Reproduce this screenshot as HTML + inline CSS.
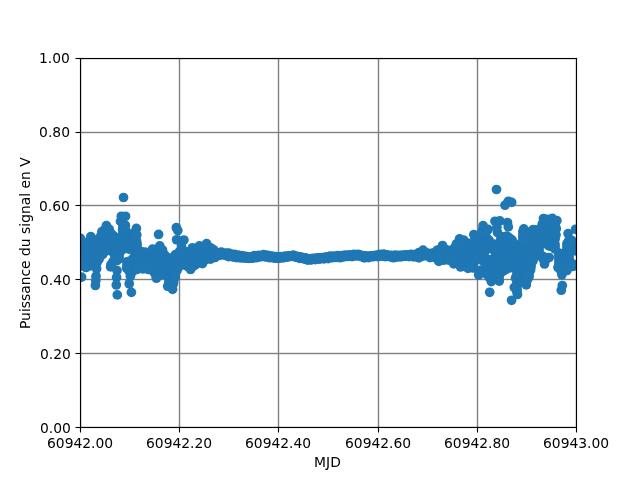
<!DOCTYPE html>
<html lang="fr">
<head>
<meta charset="utf-8">
<title>Puissance du signal en V</title>
<style>
html,body{margin:0;padding:0;background:#fff;}
body{width:640px;height:480px;overflow:hidden;}
svg{display:block;will-change:transform;transform:translateZ(0);}
text{font-family:"DejaVu Sans","Liberation Sans",sans-serif;font-size:13.889px;fill:#000;}
.t{stroke:#000;stroke-width:1.111;fill:none;}
.d circle{fill:#1f77b4;}
</style>
</head>
<body>
<svg width="640" height="480" viewBox="0 0 640 480">
<defs><clipPath id="ax"><rect x="80.5" y="58.5" width="496" height="369"/></clipPath></defs>
<rect width="640" height="480" fill="#fff"/>
<g fill="#808080">
<rect x="178.805" y="58.5" width="1.389" height="369"/>
<rect x="277.805" y="58.5" width="1.389" height="369"/>
<rect x="377.805" y="58.5" width="1.389" height="369"/>
<rect x="476.805" y="58.5" width="1.389" height="369"/>
<rect x="80.5" y="131.805" width="496" height="1.389"/>
<rect x="80.5" y="204.805" width="496" height="1.389"/>
<rect x="80.5" y="278.805" width="496" height="1.389"/>
<rect x="80.5" y="352.805" width="496" height="1.389"/>
</g>
<g class="d" clip-path="url(#ax)">
<circle cx="79" cy="238.4" r="4.86"/><circle cx="79" cy="240.91" r="4.86"/><circle cx="79" cy="243.42" r="4.86"/><circle cx="79" cy="245.93" r="4.86"/>
<circle cx="79" cy="248.44" r="4.86"/><circle cx="79" cy="250.95" r="4.86"/><circle cx="79" cy="253.45" r="4.86"/><circle cx="79" cy="255.96" r="4.86"/>
<circle cx="79" cy="258.47" r="4.86"/><circle cx="79" cy="260.98" r="4.86"/><circle cx="79" cy="263.49" r="4.86"/><circle cx="79" cy="266" r="4.86"/>
<circle cx="81" cy="241.02" r="4.86"/><circle cx="81" cy="243.49" r="4.86"/><circle cx="81" cy="245.97" r="4.86"/><circle cx="81" cy="248.45" r="4.86"/>
<circle cx="81" cy="250.93" r="4.86"/><circle cx="81" cy="253.41" r="4.86"/><circle cx="81" cy="255.89" r="4.86"/><circle cx="81" cy="258.36" r="4.86"/>
<circle cx="81" cy="260.84" r="4.86"/><circle cx="81" cy="263.32" r="4.86"/><circle cx="81" cy="265.8" r="4.86"/><circle cx="83" cy="242.68" r="4.86"/>
<circle cx="83" cy="245.22" r="4.86"/><circle cx="83" cy="247.77" r="4.86"/><circle cx="83" cy="250.32" r="4.86"/><circle cx="83" cy="252.86" r="4.86"/>
<circle cx="83" cy="255.41" r="4.86"/><circle cx="83" cy="257.96" r="4.86"/><circle cx="83" cy="260.51" r="4.86"/><circle cx="83" cy="263.05" r="4.86"/>
<circle cx="83" cy="265.6" r="4.86"/><circle cx="85" cy="244.34" r="4.86"/><circle cx="85" cy="246.68" r="4.86"/><circle cx="85" cy="249.02" r="4.86"/>
<circle cx="85" cy="251.36" r="4.86"/><circle cx="85" cy="253.7" r="4.86"/><circle cx="85" cy="256.04" r="4.86"/><circle cx="85" cy="258.38" r="4.86"/>
<circle cx="85" cy="260.72" r="4.86"/><circle cx="85" cy="263.06" r="4.86"/><circle cx="85" cy="265.4" r="4.86"/><circle cx="87" cy="243.54" r="4.86"/>
<circle cx="87" cy="245.97" r="4.86"/><circle cx="87" cy="248.41" r="4.86"/><circle cx="87" cy="250.84" r="4.86"/><circle cx="87" cy="253.28" r="4.86"/>
<circle cx="87" cy="255.71" r="4.86"/><circle cx="87" cy="258.15" r="4.86"/><circle cx="87" cy="260.58" r="4.86"/><circle cx="87" cy="263.02" r="4.86"/>
<circle cx="87" cy="265.46" r="4.86"/><circle cx="89" cy="241.1" r="4.86"/><circle cx="89" cy="243.56" r="4.86"/><circle cx="89" cy="246.03" r="4.86"/>
<circle cx="89" cy="248.5" r="4.86"/><circle cx="89" cy="250.96" r="4.86"/><circle cx="89" cy="253.43" r="4.86"/><circle cx="89" cy="255.9" r="4.86"/>
<circle cx="89" cy="258.37" r="4.86"/><circle cx="89" cy="260.83" r="4.86"/><circle cx="89" cy="263.3" r="4.86"/><circle cx="89" cy="265.77" r="4.86"/>
<circle cx="91" cy="239.05" r="4.86"/><circle cx="91" cy="241.47" r="4.86"/><circle cx="91" cy="243.88" r="4.86"/><circle cx="91" cy="246.29" r="4.86"/>
<circle cx="91" cy="248.71" r="4.86"/><circle cx="91" cy="251.12" r="4.86"/><circle cx="91" cy="253.53" r="4.86"/><circle cx="91" cy="255.95" r="4.86"/>
<circle cx="91" cy="258.36" r="4.86"/><circle cx="91" cy="260.77" r="4.86"/><circle cx="91" cy="263.19" r="4.86"/><circle cx="91" cy="265.6" r="4.86"/>
<circle cx="93" cy="240.59" r="4.86"/><circle cx="93" cy="242.93" r="4.86"/><circle cx="93" cy="245.27" r="4.86"/><circle cx="93" cy="247.61" r="4.86"/>
<circle cx="93" cy="249.95" r="4.86"/><circle cx="93" cy="252.29" r="4.86"/><circle cx="93" cy="254.64" r="4.86"/><circle cx="93" cy="256.98" r="4.86"/>
<circle cx="93" cy="259.32" r="4.86"/><circle cx="93" cy="261.66" r="4.86"/><circle cx="93" cy="264" r="4.86"/><circle cx="95" cy="242.12" r="4.86"/>
<circle cx="95" cy="244.48" r="4.86"/><circle cx="95" cy="246.84" r="4.86"/><circle cx="95" cy="249.19" r="4.86"/><circle cx="95" cy="251.55" r="4.86"/>
<circle cx="95" cy="253.91" r="4.86"/><circle cx="95" cy="256.26" r="4.86"/><circle cx="95" cy="258.62" r="4.86"/><circle cx="95" cy="260.98" r="4.86"/>
<circle cx="95" cy="263.33" r="4.86"/><circle cx="97" cy="242.19" r="4.86"/><circle cx="97" cy="244.75" r="4.86"/><circle cx="97" cy="247.31" r="4.86"/>
<circle cx="97" cy="249.87" r="4.86"/><circle cx="97" cy="252.43" r="4.86"/><circle cx="97" cy="254.99" r="4.86"/><circle cx="97" cy="257.55" r="4.86"/>
<circle cx="97" cy="260.11" r="4.86"/><circle cx="97" cy="262.67" r="4.86"/><circle cx="99" cy="238.8" r="4.86"/><circle cx="99" cy="241.38" r="4.86"/>
<circle cx="99" cy="243.96" r="4.86"/><circle cx="99" cy="246.54" r="4.86"/><circle cx="99" cy="249.11" r="4.86"/><circle cx="99" cy="251.69" r="4.86"/>
<circle cx="99" cy="254.27" r="4.86"/><circle cx="99" cy="256.85" r="4.86"/><circle cx="99" cy="259.42" r="4.86"/><circle cx="101" cy="235.42" r="4.86"/>
<circle cx="101" cy="237.93" r="4.86"/><circle cx="101" cy="240.44" r="4.86"/><circle cx="101" cy="242.95" r="4.86"/><circle cx="101" cy="245.46" r="4.86"/>
<circle cx="101" cy="247.97" r="4.86"/><circle cx="101" cy="250.47" r="4.86"/><circle cx="101" cy="252.98" r="4.86"/><circle cx="101" cy="255.49" r="4.86"/>
<circle cx="103" cy="232.41" r="4.86"/><circle cx="103" cy="234.81" r="4.86"/><circle cx="103" cy="237.21" r="4.86"/><circle cx="103" cy="239.61" r="4.86"/>
<circle cx="103" cy="242" r="4.86"/><circle cx="103" cy="244.4" r="4.86"/><circle cx="103" cy="246.8" r="4.86"/><circle cx="103" cy="249.2" r="4.86"/>
<circle cx="103" cy="251.6" r="4.86"/><circle cx="103" cy="254" r="4.86"/><circle cx="105" cy="229.7" r="4.86"/><circle cx="105" cy="232.09" r="4.86"/>
<circle cx="105" cy="234.49" r="4.86"/><circle cx="105" cy="236.88" r="4.86"/><circle cx="105" cy="239.28" r="4.86"/><circle cx="105" cy="241.67" r="4.86"/>
<circle cx="105" cy="244.07" r="4.86"/><circle cx="105" cy="246.46" r="4.86"/><circle cx="105" cy="248.86" r="4.86"/><circle cx="105" cy="251.25" r="4.86"/>
<circle cx="107" cy="228.57" r="4.86"/><circle cx="107" cy="230.92" r="4.86"/><circle cx="107" cy="233.28" r="4.86"/><circle cx="107" cy="235.63" r="4.86"/>
<circle cx="107" cy="237.98" r="4.86"/><circle cx="107" cy="240.34" r="4.86"/><circle cx="107" cy="242.69" r="4.86"/><circle cx="107" cy="245.04" r="4.86"/>
<circle cx="107" cy="247.4" r="4.86"/><circle cx="107" cy="249.75" r="4.86"/><circle cx="109" cy="231.14" r="4.86"/><circle cx="109" cy="233.53" r="4.86"/>
<circle cx="109" cy="235.92" r="4.86"/><circle cx="109" cy="238.31" r="4.86"/><circle cx="109" cy="240.7" r="4.86"/><circle cx="109" cy="243.09" r="4.86"/>
<circle cx="109" cy="245.48" r="4.86"/><circle cx="109" cy="247.87" r="4.86"/><circle cx="109" cy="250.26" r="4.86"/><circle cx="111" cy="233.33" r="4.86"/>
<circle cx="111" cy="235.73" r="4.86"/><circle cx="111" cy="238.14" r="4.86"/><circle cx="111" cy="240.55" r="4.86"/><circle cx="111" cy="242.95" r="4.86"/>
<circle cx="111" cy="245.36" r="4.86"/><circle cx="111" cy="247.77" r="4.86"/><circle cx="111" cy="250.18" r="4.86"/><circle cx="111" cy="264.62" r="4.86"/>
<circle cx="113" cy="235.47" r="4.86"/><circle cx="113" cy="237.86" r="4.86"/><circle cx="113" cy="240.26" r="4.86"/><circle cx="113" cy="242.65" r="4.86"/>
<circle cx="113" cy="245.05" r="4.86"/><circle cx="113" cy="247.44" r="4.86"/><circle cx="113" cy="249.84" r="4.86"/><circle cx="113" cy="252.23" r="4.86"/>
<circle cx="113" cy="261.81" r="4.86"/><circle cx="115" cy="237.07" r="4.86"/><circle cx="115" cy="239.64" r="4.86"/><circle cx="115" cy="242.21" r="4.86"/>
<circle cx="115" cy="244.78" r="4.86"/><circle cx="115" cy="247.35" r="4.86"/><circle cx="115" cy="249.92" r="4.86"/><circle cx="115" cy="252.49" r="4.86"/>
<circle cx="115" cy="255.06" r="4.86"/><circle cx="115" cy="257.63" r="4.86"/><circle cx="115" cy="260.19" r="4.86"/><circle cx="117" cy="238.5" r="4.86"/>
<circle cx="117" cy="240.96" r="4.86"/><circle cx="117" cy="243.42" r="4.86"/><circle cx="117" cy="245.88" r="4.86"/><circle cx="117" cy="248.33" r="4.86"/>
<circle cx="117" cy="250.79" r="4.86"/><circle cx="117" cy="253.25" r="4.86"/><circle cx="117" cy="255.71" r="4.86"/><circle cx="117" cy="258.17" r="4.86"/>
<circle cx="117" cy="260.62" r="4.86"/><circle cx="119" cy="238.3" r="4.86"/><circle cx="119" cy="240.87" r="4.86"/><circle cx="119" cy="243.44" r="4.86"/>
<circle cx="119" cy="246.01" r="4.86"/><circle cx="119" cy="248.58" r="4.86"/><circle cx="119" cy="251.15" r="4.86"/><circle cx="119" cy="253.72" r="4.86"/>
<circle cx="119" cy="256.29" r="4.86"/><circle cx="119" cy="258.86" r="4.86"/><circle cx="121" cy="238.09" r="4.86"/><circle cx="121" cy="240.63" r="4.86"/>
<circle cx="121" cy="243.16" r="4.86"/><circle cx="121" cy="245.7" r="4.86"/><circle cx="121" cy="248.24" r="4.86"/><circle cx="121" cy="250.77" r="4.86"/>
<circle cx="123" cy="224.5" r="4.86"/><circle cx="123" cy="226.98" r="4.86"/><circle cx="123" cy="229.46" r="4.86"/><circle cx="123" cy="231.94" r="4.86"/>
<circle cx="123" cy="234.42" r="4.86"/><circle cx="123" cy="236.9" r="4.86"/><circle cx="123" cy="239.38" r="4.86"/><circle cx="123" cy="241.85" r="4.86"/>
<circle cx="123" cy="244.33" r="4.86"/><circle cx="123" cy="246.81" r="4.86"/><circle cx="123" cy="249.29" r="4.86"/><circle cx="125" cy="226.81" r="4.86"/>
<circle cx="125" cy="229.37" r="4.86"/><circle cx="125" cy="231.94" r="4.86"/><circle cx="125" cy="234.51" r="4.86"/><circle cx="125" cy="237.07" r="4.86"/>
<circle cx="125" cy="239.64" r="4.86"/><circle cx="125" cy="242.21" r="4.86"/><circle cx="125" cy="244.77" r="4.86"/><circle cx="125" cy="247.34" r="4.86"/>
<circle cx="127" cy="232.5" r="4.86"/><circle cx="127" cy="234.94" r="4.86"/><circle cx="127" cy="237.38" r="4.86"/><circle cx="127" cy="239.82" r="4.86"/>
<circle cx="127" cy="242.26" r="4.86"/><circle cx="127" cy="244.7" r="4.86"/><circle cx="127" cy="247.15" r="4.86"/><circle cx="127" cy="261.79" r="4.86"/>
<circle cx="127" cy="264.23" r="4.86"/><circle cx="129" cy="234.5" r="4.86"/><circle cx="129" cy="236.94" r="4.86"/><circle cx="129" cy="239.37" r="4.86"/>
<circle cx="129" cy="241.81" r="4.86"/><circle cx="129" cy="244.24" r="4.86"/><circle cx="129" cy="246.68" r="4.86"/><circle cx="129" cy="249.12" r="4.86"/>
<circle cx="129" cy="261.3" r="4.86"/><circle cx="129" cy="263.73" r="4.86"/><circle cx="129" cy="266.17" r="4.86"/><circle cx="129" cy="268.61" r="4.86"/>
<circle cx="129" cy="271.04" r="4.86"/><circle cx="131" cy="236.5" r="4.86"/><circle cx="131" cy="238.96" r="4.86"/><circle cx="131" cy="241.42" r="4.86"/>
<circle cx="131" cy="243.88" r="4.86"/><circle cx="131" cy="246.34" r="4.86"/><circle cx="131" cy="248.79" r="4.86"/><circle cx="131" cy="261.09" r="4.86"/>
<circle cx="131" cy="263.55" r="4.86"/><circle cx="131" cy="266.01" r="4.86"/><circle cx="131" cy="268.47" r="4.86"/><circle cx="131" cy="270.93" r="4.86"/>
<circle cx="131" cy="273.38" r="4.86"/><circle cx="133" cy="234.31" r="4.86"/><circle cx="133" cy="236.76" r="4.86"/><circle cx="133" cy="239.21" r="4.86"/>
<circle cx="133" cy="241.65" r="4.86"/><circle cx="133" cy="244.1" r="4.86"/><circle cx="133" cy="246.54" r="4.86"/><circle cx="133" cy="248.99" r="4.86"/>
<circle cx="133" cy="258.77" r="4.86"/><circle cx="133" cy="261.22" r="4.86"/><circle cx="133" cy="263.66" r="4.86"/><circle cx="133" cy="266.11" r="4.86"/>
<circle cx="133" cy="268.55" r="4.86"/><circle cx="133" cy="271" r="4.86"/><circle cx="135" cy="232.13" r="4.86"/><circle cx="135" cy="234.6" r="4.86"/>
<circle cx="135" cy="237.08" r="4.86"/><circle cx="135" cy="239.55" r="4.86"/><circle cx="135" cy="242.02" r="4.86"/><circle cx="135" cy="244.5" r="4.86"/>
<circle cx="135" cy="246.97" r="4.86"/><circle cx="135" cy="249.44" r="4.86"/><circle cx="135" cy="251.92" r="4.86"/><circle cx="135" cy="254.39" r="4.86"/>
<circle cx="135" cy="256.86" r="4.86"/><circle cx="135" cy="259.34" r="4.86"/><circle cx="135" cy="261.81" r="4.86"/><circle cx="135" cy="264.29" r="4.86"/>
<circle cx="135" cy="266.76" r="4.86"/><circle cx="135" cy="269.23" r="4.86"/><circle cx="137" cy="243.57" r="4.86"/><circle cx="137" cy="245.96" r="4.86"/>
<circle cx="137" cy="248.35" r="4.86"/><circle cx="137" cy="250.74" r="4.86"/><circle cx="137" cy="253.13" r="4.86"/><circle cx="137" cy="255.52" r="4.86"/>
<circle cx="137" cy="257.91" r="4.86"/><circle cx="137" cy="260.3" r="4.86"/><circle cx="137" cy="262.69" r="4.86"/><circle cx="137" cy="265.08" r="4.86"/>
<circle cx="137" cy="267.47" r="4.86"/><circle cx="139" cy="250.71" r="4.86"/><circle cx="139" cy="253.05" r="4.86"/><circle cx="139" cy="255.39" r="4.86"/>
<circle cx="139" cy="257.73" r="4.86"/><circle cx="139" cy="260.06" r="4.86"/><circle cx="139" cy="262.4" r="4.86"/><circle cx="139" cy="264.74" r="4.86"/>
<circle cx="139" cy="267.08" r="4.86"/><circle cx="141" cy="251.65" r="4.86"/><circle cx="141" cy="254.2" r="4.86"/><circle cx="141" cy="256.75" r="4.86"/>
<circle cx="141" cy="259.3" r="4.86"/><circle cx="141" cy="261.85" r="4.86"/><circle cx="141" cy="264.39" r="4.86"/><circle cx="141" cy="266.94" r="4.86"/>
<circle cx="143" cy="252.6" r="4.86"/><circle cx="143" cy="254.97" r="4.86"/><circle cx="143" cy="257.33" r="4.86"/><circle cx="143" cy="259.7" r="4.86"/>
<circle cx="143" cy="262.07" r="4.86"/><circle cx="143" cy="264.43" r="4.86"/><circle cx="143" cy="266.8" r="4.86"/><circle cx="145" cy="252.14" r="4.86"/>
<circle cx="145" cy="254.62" r="4.86"/><circle cx="145" cy="257.09" r="4.86"/><circle cx="145" cy="259.56" r="4.86"/><circle cx="145" cy="262.04" r="4.86"/>
<circle cx="145" cy="264.51" r="4.86"/><circle cx="145" cy="266.98" r="4.86"/><circle cx="147" cy="254.27" r="4.86"/><circle cx="147" cy="256.85" r="4.86"/>
<circle cx="147" cy="259.42" r="4.86"/><circle cx="147" cy="262" r="4.86"/><circle cx="147" cy="264.58" r="4.86"/><circle cx="147" cy="267.16" r="4.86"/>
<circle cx="149" cy="253.57" r="4.86"/><circle cx="149" cy="255.91" r="4.86"/><circle cx="149" cy="258.26" r="4.86"/><circle cx="149" cy="260.6" r="4.86"/>
<circle cx="149" cy="262.94" r="4.86"/><circle cx="149" cy="265.29" r="4.86"/><circle cx="149" cy="267.63" r="4.86"/><circle cx="151" cy="253.7" r="4.86"/>
<circle cx="151" cy="256.24" r="4.86"/><circle cx="151" cy="258.78" r="4.86"/><circle cx="151" cy="261.32" r="4.86"/><circle cx="151" cy="263.86" r="4.86"/>
<circle cx="151" cy="266.4" r="4.86"/><circle cx="151" cy="268.94" r="4.86"/><circle cx="153" cy="253.63" r="4.86"/><circle cx="153" cy="256.1" r="4.86"/>
<circle cx="153" cy="258.56" r="4.86"/><circle cx="153" cy="261.02" r="4.86"/><circle cx="153" cy="263.48" r="4.86"/><circle cx="153" cy="265.94" r="4.86"/>
<circle cx="153" cy="268.4" r="4.86"/><circle cx="153" cy="270.86" r="4.86"/><circle cx="155" cy="250.27" r="4.86"/><circle cx="155" cy="252.63" r="4.86"/>
<circle cx="155" cy="254.99" r="4.86"/><circle cx="155" cy="257.35" r="4.86"/><circle cx="155" cy="259.72" r="4.86"/><circle cx="155" cy="262.08" r="4.86"/>
<circle cx="155" cy="264.44" r="4.86"/><circle cx="155" cy="266.8" r="4.86"/><circle cx="155" cy="269.16" r="4.86"/><circle cx="155" cy="271.52" r="4.86"/>
<circle cx="155" cy="273.88" r="4.86"/><circle cx="157" cy="249.37" r="4.86"/><circle cx="157" cy="251.78" r="4.86"/><circle cx="157" cy="254.19" r="4.86"/>
<circle cx="157" cy="256.6" r="4.86"/><circle cx="157" cy="259.01" r="4.86"/><circle cx="157" cy="261.42" r="4.86"/><circle cx="157" cy="263.83" r="4.86"/>
<circle cx="157" cy="266.24" r="4.86"/><circle cx="157" cy="268.65" r="4.86"/><circle cx="157" cy="271.06" r="4.86"/><circle cx="157" cy="273.47" r="4.86"/>
<circle cx="157" cy="275.88" r="4.86"/><circle cx="159" cy="248.46" r="4.86"/><circle cx="159" cy="250.92" r="4.86"/><circle cx="159" cy="253.38" r="4.86"/>
<circle cx="159" cy="255.84" r="4.86"/><circle cx="159" cy="258.29" r="4.86"/><circle cx="159" cy="260.75" r="4.86"/><circle cx="159" cy="263.21" r="4.86"/>
<circle cx="159" cy="265.67" r="4.86"/><circle cx="159" cy="268.13" r="4.86"/><circle cx="159" cy="270.58" r="4.86"/><circle cx="159" cy="273.04" r="4.86"/>
<circle cx="159" cy="275.5" r="4.86"/><circle cx="161" cy="249.92" r="4.86"/><circle cx="161" cy="252.31" r="4.86"/><circle cx="161" cy="254.7" r="4.86"/>
<circle cx="161" cy="257.1" r="4.86"/><circle cx="161" cy="259.49" r="4.86"/><circle cx="161" cy="261.88" r="4.86"/><circle cx="161" cy="264.27" r="4.86"/>
<circle cx="161" cy="266.66" r="4.86"/><circle cx="161" cy="269.05" r="4.86"/><circle cx="161" cy="271.44" r="4.86"/><circle cx="161" cy="273.83" r="4.86"/>
<circle cx="163" cy="252.83" r="4.86"/><circle cx="163" cy="255.42" r="4.86"/><circle cx="163" cy="258" r="4.86"/><circle cx="163" cy="260.58" r="4.86"/>
<circle cx="163" cy="263.17" r="4.86"/><circle cx="163" cy="265.75" r="4.86"/><circle cx="163" cy="268.33" r="4.86"/><circle cx="163" cy="270.92" r="4.86"/>
<circle cx="163" cy="273.5" r="4.86"/><circle cx="165" cy="255.37" r="4.86"/><circle cx="165" cy="257.76" r="4.86"/><circle cx="165" cy="260.15" r="4.86"/>
<circle cx="165" cy="262.54" r="4.86"/><circle cx="165" cy="264.93" r="4.86"/><circle cx="165" cy="267.32" r="4.86"/><circle cx="165" cy="269.72" r="4.86"/>
<circle cx="165" cy="272.11" r="4.86"/><circle cx="165" cy="274.5" r="4.86"/><circle cx="167" cy="257.29" r="4.86"/><circle cx="167" cy="259.58" r="4.86"/>
<circle cx="167" cy="261.88" r="4.86"/><circle cx="167" cy="264.18" r="4.86"/><circle cx="167" cy="266.48" r="4.86"/><circle cx="167" cy="268.77" r="4.86"/>
<circle cx="167" cy="271.07" r="4.86"/><circle cx="167" cy="273.37" r="4.86"/><circle cx="167" cy="275.67" r="4.86"/><circle cx="169" cy="259" r="4.86"/>
<circle cx="169" cy="261.58" r="4.86"/><circle cx="169" cy="264.17" r="4.86"/><circle cx="169" cy="266.75" r="4.86"/><circle cx="169" cy="269.34" r="4.86"/>
<circle cx="169" cy="271.92" r="4.86"/><circle cx="169" cy="274.51" r="4.86"/><circle cx="169" cy="277.09" r="4.86"/><circle cx="169" cy="279.68" r="4.86"/>
<circle cx="169" cy="282.26" r="4.86"/><circle cx="169" cy="284.85" r="4.86"/><circle cx="171" cy="258.47" r="4.86"/><circle cx="171" cy="260.98" r="4.86"/>
<circle cx="171" cy="263.5" r="4.86"/><circle cx="171" cy="266.02" r="4.86"/><circle cx="171" cy="268.54" r="4.86"/><circle cx="171" cy="271.05" r="4.86"/>
<circle cx="171" cy="273.57" r="4.86"/><circle cx="171" cy="276.09" r="4.86"/><circle cx="171" cy="278.6" r="4.86"/><circle cx="171" cy="281.12" r="4.86"/>
<circle cx="171" cy="283.64" r="4.86"/><circle cx="171" cy="286.16" r="4.86"/><circle cx="173" cy="257.77" r="4.86"/><circle cx="173" cy="260.2" r="4.86"/>
<circle cx="173" cy="262.63" r="4.86"/><circle cx="173" cy="265.06" r="4.86"/><circle cx="173" cy="267.48" r="4.86"/><circle cx="173" cy="269.91" r="4.86"/>
<circle cx="173" cy="272.34" r="4.86"/><circle cx="173" cy="274.77" r="4.86"/><circle cx="173" cy="277.2" r="4.86"/><circle cx="173" cy="279.62" r="4.86"/>
<circle cx="173" cy="282.05" r="4.86"/><circle cx="173" cy="284.48" r="4.86"/><circle cx="175" cy="256.91" r="4.86"/><circle cx="175" cy="259.25" r="4.86"/>
<circle cx="175" cy="261.6" r="4.86"/><circle cx="175" cy="263.94" r="4.86"/><circle cx="175" cy="266.28" r="4.86"/><circle cx="175" cy="268.62" r="4.86"/>
<circle cx="175" cy="270.96" r="4.86"/><circle cx="175" cy="273.3" r="4.86"/><circle cx="175" cy="275.64" r="4.86"/><circle cx="177" cy="255.57" r="4.86"/>
<circle cx="177" cy="258.08" r="4.86"/><circle cx="177" cy="260.58" r="4.86"/><circle cx="177" cy="263.08" r="4.86"/><circle cx="177" cy="265.59" r="4.86"/>
<circle cx="177" cy="268.09" r="4.86"/><circle cx="177" cy="270.59" r="4.86"/><circle cx="179" cy="254.07" r="4.86"/><circle cx="179" cy="256.6" r="4.86"/>
<circle cx="179" cy="259.12" r="4.86"/><circle cx="179" cy="261.64" r="4.86"/><circle cx="179" cy="264.17" r="4.86"/><circle cx="179" cy="266.69" r="4.86"/>
<circle cx="181" cy="252.97" r="4.86"/><circle cx="181" cy="255.19" r="4.86"/><circle cx="181" cy="257.41" r="4.86"/><circle cx="181" cy="259.63" r="4.86"/>
<circle cx="181" cy="261.85" r="4.86"/><circle cx="181" cy="264.07" r="4.86"/><circle cx="183" cy="251.99" r="4.86"/><circle cx="183" cy="254.23" r="4.86"/>
<circle cx="183" cy="256.47" r="4.86"/><circle cx="183" cy="258.71" r="4.86"/><circle cx="183" cy="260.95" r="4.86"/><circle cx="183" cy="263.19" r="4.86"/>
<circle cx="185" cy="251.87" r="4.86"/><circle cx="185" cy="254.04" r="4.86"/><circle cx="185" cy="256.22" r="4.86"/><circle cx="185" cy="258.4" r="4.86"/>
<circle cx="185" cy="260.58" r="4.86"/><circle cx="185" cy="262.75" r="4.86"/><circle cx="185" cy="264.93" r="4.86"/><circle cx="187" cy="252.6" r="4.86"/>
<circle cx="187" cy="254.85" r="4.86"/><circle cx="187" cy="257.11" r="4.86"/><circle cx="187" cy="259.36" r="4.86"/><circle cx="187" cy="261.62" r="4.86"/>
<circle cx="187" cy="263.87" r="4.86"/><circle cx="187" cy="266.13" r="4.86"/><circle cx="189" cy="251.79" r="4.86"/><circle cx="189" cy="254.29" r="4.86"/>
<circle cx="189" cy="256.79" r="4.86"/><circle cx="189" cy="259.29" r="4.86"/><circle cx="189" cy="261.78" r="4.86"/><circle cx="189" cy="264.28" r="4.86"/>
<circle cx="189" cy="266.78" r="4.86"/><circle cx="191" cy="250.77" r="4.86"/><circle cx="191" cy="253.11" r="4.86"/><circle cx="191" cy="255.45" r="4.86"/>
<circle cx="191" cy="257.79" r="4.86"/><circle cx="191" cy="260.13" r="4.86"/><circle cx="191" cy="262.47" r="4.86"/><circle cx="191" cy="264.81" r="4.86"/>
<circle cx="191" cy="267.15" r="4.86"/><circle cx="193" cy="249.86" r="4.86"/><circle cx="193" cy="252.22" r="4.86"/><circle cx="193" cy="254.58" r="4.86"/>
<circle cx="193" cy="256.94" r="4.86"/><circle cx="193" cy="259.3" r="4.86"/><circle cx="193" cy="261.66" r="4.86"/><circle cx="193" cy="264.02" r="4.86"/>
<circle cx="193" cy="266.38" r="4.86"/><circle cx="195" cy="249.31" r="4.86"/><circle cx="195" cy="251.56" r="4.86"/><circle cx="195" cy="253.81" r="4.86"/>
<circle cx="195" cy="256.06" r="4.86"/><circle cx="195" cy="258.31" r="4.86"/><circle cx="195" cy="260.57" r="4.86"/><circle cx="195" cy="262.82" r="4.86"/>
<circle cx="195" cy="265.07" r="4.86"/><circle cx="197" cy="248.76" r="4.86"/><circle cx="197" cy="251.17" r="4.86"/><circle cx="197" cy="253.57" r="4.86"/>
<circle cx="197" cy="255.98" r="4.86"/><circle cx="197" cy="258.39" r="4.86"/><circle cx="197" cy="260.79" r="4.86"/><circle cx="197" cy="263.2" r="4.86"/>
<circle cx="199" cy="248.21" r="4.86"/><circle cx="199" cy="250.6" r="4.86"/><circle cx="199" cy="252.99" r="4.86"/><circle cx="199" cy="255.38" r="4.86"/>
<circle cx="199" cy="257.77" r="4.86"/><circle cx="199" cy="260.16" r="4.86"/><circle cx="199" cy="262.55" r="4.86"/><circle cx="201" cy="247.59" r="4.86"/>
<circle cx="201" cy="249.97" r="4.86"/><circle cx="201" cy="252.36" r="4.86"/><circle cx="201" cy="254.74" r="4.86"/><circle cx="201" cy="257.12" r="4.86"/>
<circle cx="201" cy="259.51" r="4.86"/><circle cx="201" cy="261.89" r="4.86"/><circle cx="203" cy="246.95" r="4.86"/><circle cx="203" cy="249.31" r="4.86"/>
<circle cx="203" cy="251.67" r="4.86"/><circle cx="203" cy="254.04" r="4.86"/><circle cx="203" cy="256.4" r="4.86"/><circle cx="203" cy="258.76" r="4.86"/>
<circle cx="203" cy="261.12" r="4.86"/><circle cx="205" cy="246.31" r="4.86"/><circle cx="205" cy="248.59" r="4.86"/><circle cx="205" cy="250.88" r="4.86"/>
<circle cx="205" cy="253.16" r="4.86"/><circle cx="205" cy="255.44" r="4.86"/><circle cx="205" cy="257.73" r="4.86"/><circle cx="205" cy="260.01" r="4.86"/>
<circle cx="207" cy="246.23" r="4.86"/><circle cx="207" cy="248.76" r="4.86"/><circle cx="207" cy="251.3" r="4.86"/><circle cx="207" cy="253.83" r="4.86"/>
<circle cx="207" cy="256.37" r="4.86"/><circle cx="207" cy="258.9" r="4.86"/><circle cx="209" cy="248.38" r="4.86"/><circle cx="209" cy="250.74" r="4.86"/>
<circle cx="209" cy="253.09" r="4.86"/><circle cx="209" cy="255.44" r="4.86"/><circle cx="209" cy="257.79" r="4.86"/><circle cx="211" cy="250.32" r="4.86"/>
<circle cx="211" cy="252.46" r="4.86"/><circle cx="211" cy="254.61" r="4.86"/><circle cx="211" cy="256.75" r="4.86"/><circle cx="213" cy="251.59" r="4.86"/>
<circle cx="213" cy="253.81" r="4.86"/><circle cx="213" cy="256.03" r="4.86"/><circle cx="215" cy="252.45" r="4.86"/><circle cx="215" cy="253.88" r="4.86"/>
<circle cx="215" cy="255.3" r="4.86"/><circle cx="217" cy="253.04" r="4.86"/><circle cx="217" cy="254.46" r="4.86"/><circle cx="225" cy="253.56" r="4.86"/>
<circle cx="225" cy="255.24" r="4.86"/><circle cx="226.5" cy="253.84" r="4.86"/><circle cx="226.5" cy="255.46" r="4.86"/><circle cx="228" cy="254.12" r="4.86"/>
<circle cx="228" cy="255.68" r="4.86"/><circle cx="229.5" cy="254.41" r="4.86"/><circle cx="229.5" cy="255.91" r="4.86"/><circle cx="231" cy="254.69" r="4.86"/>
<circle cx="231" cy="256.13" r="4.86"/><circle cx="232.5" cy="254.97" r="4.86"/><circle cx="232.5" cy="256.35" r="4.86"/><circle cx="234" cy="255.25" r="4.86"/>
<circle cx="234" cy="256.57" r="4.86"/><circle cx="235.5" cy="255.53" r="4.86"/><circle cx="235.5" cy="256.79" r="4.86"/><circle cx="237" cy="255.82" r="4.86"/>
<circle cx="237" cy="257.02" r="4.86"/><circle cx="238.5" cy="256.02" r="4.86"/><circle cx="238.5" cy="257.17" r="4.86"/><circle cx="240" cy="256.19" r="4.86"/>
<circle cx="240" cy="257.29" r="4.86"/><circle cx="241.5" cy="256.36" r="4.86"/><circle cx="241.5" cy="257.41" r="4.86"/><circle cx="243" cy="256.53" r="4.86"/>
<circle cx="243" cy="257.53" r="4.86"/><circle cx="244.5" cy="256.69" r="4.86"/><circle cx="244.5" cy="257.65" r="4.86"/><circle cx="246" cy="256.86" r="4.86"/>
<circle cx="246" cy="257.77" r="4.86"/><circle cx="247.5" cy="257.03" r="4.86"/><circle cx="247.5" cy="257.89" r="4.86"/><circle cx="249" cy="257.2" r="4.86"/>
<circle cx="249" cy="258.01" r="4.86"/><circle cx="250.5" cy="257.25" r="4.86"/><circle cx="250.5" cy="258.01" r="4.86"/><circle cx="252" cy="257.05" r="4.86"/>
<circle cx="252" cy="257.79" r="4.86"/><circle cx="253.5" cy="256.86" r="4.86"/><circle cx="253.5" cy="257.56" r="4.86"/><circle cx="255" cy="256.67" r="4.86"/>
<circle cx="255" cy="257.33" r="4.86"/><circle cx="256.5" cy="256.48" r="4.86"/><circle cx="256.5" cy="257.1" r="4.86"/><circle cx="258" cy="256.28" r="4.86"/>
<circle cx="258" cy="256.88" r="4.86"/><circle cx="259.5" cy="256.09" r="4.86"/><circle cx="259.5" cy="256.65" r="4.86"/><circle cx="261" cy="255.9" r="4.86"/>
<circle cx="261" cy="256.42" r="4.86"/><circle cx="262.5" cy="255.71" r="4.86"/><circle cx="262.5" cy="256.19" r="4.86"/><circle cx="264" cy="255.51" r="4.86"/>
<circle cx="264" cy="255.97" r="4.86"/><circle cx="265.5" cy="255.48" r="4.86"/><circle cx="265.5" cy="255.91" r="4.86"/><circle cx="267" cy="255.75" r="4.86"/>
<circle cx="267" cy="256.18" r="4.86"/><circle cx="268.5" cy="256.03" r="4.86"/><circle cx="268.5" cy="256.46" r="4.86"/><circle cx="270" cy="256.31" r="4.86"/>
<circle cx="270" cy="256.73" r="4.86"/><circle cx="271.5" cy="256.58" r="4.86"/><circle cx="271.5" cy="257.01" r="4.86"/><circle cx="273" cy="256.86" r="4.86"/>
<circle cx="273" cy="257.29" r="4.86"/><circle cx="274.5" cy="257.13" r="4.86"/><circle cx="274.5" cy="257.56" r="4.86"/><circle cx="276" cy="257.41" r="4.86"/>
<circle cx="276" cy="257.84" r="4.86"/><circle cx="277.5" cy="257.69" r="4.86"/><circle cx="277.5" cy="258.11" r="4.86"/><circle cx="279" cy="257.51" r="4.86"/>
<circle cx="279" cy="257.89" r="4.86"/><circle cx="280.5" cy="257.33" r="4.86"/><circle cx="280.5" cy="257.67" r="4.86"/><circle cx="282" cy="257.15" r="4.86"/>
<circle cx="282" cy="257.45" r="4.86"/><circle cx="283.5" cy="256.97" r="4.86"/><circle cx="283.5" cy="257.23" r="4.86"/><circle cx="285" cy="256.79" r="4.86"/>
<circle cx="285" cy="257.01" r="4.86"/><circle cx="286.5" cy="256.61" r="4.86"/><circle cx="286.5" cy="256.79" r="4.86"/><circle cx="288" cy="256.44" r="4.86"/>
<circle cx="288" cy="256.56" r="4.86"/><circle cx="289.5" cy="256.26" r="4.86"/><circle cx="289.5" cy="256.34" r="4.86"/><circle cx="291" cy="256.08" r="4.86"/>
<circle cx="291" cy="256.12" r="4.86"/><circle cx="292.5" cy="255.9" r="4.86"/><circle cx="292.5" cy="255.9" r="4.86"/><circle cx="294" cy="256.18" r="4.86"/>
<circle cx="294" cy="256.26" r="4.86"/><circle cx="295.5" cy="256.46" r="4.86"/><circle cx="295.5" cy="256.62" r="4.86"/><circle cx="297" cy="256.75" r="4.86"/>
<circle cx="297" cy="256.97" r="4.86"/><circle cx="298.5" cy="257.03" r="4.86"/><circle cx="298.5" cy="257.33" r="4.86"/><circle cx="300" cy="257.31" r="4.86"/>
<circle cx="300" cy="257.69" r="4.86"/><circle cx="301.5" cy="257.69" r="4.86"/><circle cx="301.5" cy="257.98" r="4.86"/><circle cx="303" cy="258.06" r="4.86"/>
<circle cx="303" cy="258.26" r="4.86"/><circle cx="304.5" cy="258.44" r="4.86"/><circle cx="304.5" cy="258.55" r="4.86"/><circle cx="306" cy="258.69" r="4.86"/>
<circle cx="306" cy="258.84" r="4.86"/><circle cx="307.5" cy="258.87" r="4.86"/><circle cx="307.5" cy="259.13" r="4.86"/><circle cx="309" cy="259.06" r="4.86"/>
<circle cx="309" cy="259.42" r="4.86"/><circle cx="310.5" cy="259.13" r="4.86"/><circle cx="310.5" cy="259.55" r="4.86"/><circle cx="312" cy="258.98" r="4.86"/>
<circle cx="312" cy="259.36" r="4.86"/><circle cx="313.5" cy="258.83" r="4.86"/><circle cx="313.5" cy="259.18" r="4.86"/><circle cx="315" cy="258.68" r="4.86"/>
<circle cx="315" cy="258.99" r="4.86"/><circle cx="316.5" cy="258.52" r="4.86"/><circle cx="316.5" cy="258.8" r="4.86"/><circle cx="318" cy="258.37" r="4.86"/>
<circle cx="318" cy="258.62" r="4.86"/><circle cx="319.5" cy="258.22" r="4.86"/><circle cx="319.5" cy="258.43" r="4.86"/><circle cx="321" cy="258.07" r="4.86"/>
<circle cx="321" cy="258.24" r="4.86"/><circle cx="322.5" cy="257.91" r="4.86"/><circle cx="322.5" cy="258.05" r="4.86"/><circle cx="324" cy="257.76" r="4.86"/>
<circle cx="324" cy="257.87" r="4.86"/><circle cx="325.5" cy="257.61" r="4.86"/><circle cx="325.5" cy="257.7" r="4.86"/><circle cx="327" cy="257.47" r="4.86"/>
<circle cx="327" cy="257.6" r="4.86"/><circle cx="328.5" cy="257.33" r="4.86"/><circle cx="328.5" cy="257.49" r="4.86"/><circle cx="330" cy="257.19" r="4.86"/>
<circle cx="330" cy="257.38" r="4.86"/><circle cx="331.5" cy="257.05" r="4.86"/><circle cx="331.5" cy="257.28" r="4.86"/><circle cx="333" cy="256.91" r="4.86"/>
<circle cx="333" cy="257.17" r="4.86"/><circle cx="334.5" cy="256.76" r="4.86"/><circle cx="334.5" cy="257.06" r="4.86"/><circle cx="336" cy="256.62" r="4.86"/>
<circle cx="336" cy="256.95" r="4.86"/><circle cx="337.5" cy="256.48" r="4.86"/><circle cx="337.5" cy="256.85" r="4.86"/><circle cx="339" cy="256.34" r="4.86"/>
<circle cx="339" cy="256.74" r="4.86"/><circle cx="340.5" cy="256.2" r="4.86"/><circle cx="340.5" cy="256.63" r="4.86"/><circle cx="342" cy="256.06" r="4.86"/>
<circle cx="342" cy="256.53" r="4.86"/><circle cx="343.5" cy="255.94" r="4.86"/><circle cx="343.5" cy="256.41" r="4.86"/><circle cx="345" cy="255.83" r="4.86"/>
<circle cx="345" cy="256.29" r="4.86"/><circle cx="346.5" cy="255.71" r="4.86"/><circle cx="346.5" cy="256.17" r="4.86"/><circle cx="348" cy="255.6" r="4.86"/>
<circle cx="348" cy="256.05" r="4.86"/><circle cx="349.5" cy="255.49" r="4.86"/><circle cx="349.5" cy="255.93" r="4.86"/><circle cx="351" cy="255.38" r="4.86"/>
<circle cx="351" cy="255.81" r="4.86"/><circle cx="352.5" cy="255.27" r="4.86"/><circle cx="352.5" cy="255.69" r="4.86"/><circle cx="354" cy="255.16" r="4.86"/>
<circle cx="354" cy="255.57" r="4.86"/><circle cx="355.5" cy="255.05" r="4.86"/><circle cx="355.5" cy="255.45" r="4.86"/><circle cx="357" cy="254.94" r="4.86"/>
<circle cx="357" cy="255.33" r="4.86"/><circle cx="358.5" cy="254.83" r="4.86"/><circle cx="358.5" cy="255.21" r="4.86"/><circle cx="360" cy="255.23" r="4.86"/>
<circle cx="360" cy="255.62" r="4.86"/><circle cx="361.5" cy="255.72" r="4.86"/><circle cx="361.5" cy="256.12" r="4.86"/><circle cx="363" cy="256.22" r="4.86"/>
<circle cx="363" cy="256.63" r="4.86"/><circle cx="364.5" cy="256.72" r="4.86"/><circle cx="364.5" cy="257.14" r="4.86"/><circle cx="366" cy="256.79" r="4.86"/>
<circle cx="366" cy="257.19" r="4.86"/><circle cx="367.5" cy="256.65" r="4.86"/><circle cx="367.5" cy="257" r="4.86"/><circle cx="369" cy="256.52" r="4.86"/>
<circle cx="369" cy="256.81" r="4.86"/><circle cx="370.5" cy="256.38" r="4.86"/><circle cx="370.5" cy="256.61" r="4.86"/><circle cx="372" cy="256.24" r="4.86"/>
<circle cx="372" cy="256.42" r="4.86"/><circle cx="373.5" cy="256.1" r="4.86"/><circle cx="373.5" cy="256.23" r="4.86"/><circle cx="375" cy="255.96" r="4.86"/>
<circle cx="375" cy="256.04" r="4.86"/><circle cx="376.5" cy="255.67" r="4.86"/><circle cx="376.5" cy="255.83" r="4.86"/><circle cx="378" cy="255.38" r="4.86"/>
<circle cx="378" cy="255.62" r="4.86"/><circle cx="379.5" cy="255.1" r="4.86"/><circle cx="379.5" cy="255.4" r="4.86"/><circle cx="381" cy="254.81" r="4.86"/>
<circle cx="381" cy="255.19" r="4.86"/><circle cx="382.5" cy="255.02" r="4.86"/><circle cx="382.5" cy="255.4" r="4.86"/><circle cx="384" cy="255.22" r="4.86"/>
<circle cx="384" cy="255.61" r="4.86"/><circle cx="385.5" cy="255.43" r="4.86"/><circle cx="385.5" cy="255.83" r="4.86"/><circle cx="387" cy="255.63" r="4.86"/>
<circle cx="387" cy="256.04" r="4.86"/><circle cx="388.5" cy="255.84" r="4.86"/><circle cx="388.5" cy="256.25" r="4.86"/><circle cx="390" cy="256.04" r="4.86"/>
<circle cx="390" cy="256.46" r="4.86"/><circle cx="391.5" cy="256.25" r="4.86"/><circle cx="391.5" cy="256.67" r="4.86"/><circle cx="393" cy="256.35" r="4.86"/>
<circle cx="393" cy="256.77" r="4.86"/><circle cx="394.5" cy="256.23" r="4.86"/><circle cx="394.5" cy="256.65" r="4.86"/><circle cx="396" cy="256.11" r="4.86"/>
<circle cx="396" cy="256.54" r="4.86"/><circle cx="397.5" cy="255.99" r="4.86"/><circle cx="397.5" cy="256.42" r="4.86"/><circle cx="399" cy="255.87" r="4.86"/>
<circle cx="399" cy="256.3" r="4.86"/><circle cx="400.5" cy="255.75" r="4.86"/><circle cx="400.5" cy="256.18" r="4.86"/><circle cx="402" cy="255.62" r="4.86"/>
<circle cx="402" cy="256.06" r="4.86"/><circle cx="403.5" cy="255.5" r="4.86"/><circle cx="403.5" cy="255.94" r="4.86"/><circle cx="405" cy="255.38" r="4.86"/>
<circle cx="405" cy="255.81" r="4.86"/><circle cx="406.5" cy="255.36" r="4.86"/><circle cx="406.5" cy="255.88" r="4.86"/><circle cx="408" cy="255.34" r="4.86"/>
<circle cx="408" cy="255.95" r="4.86"/><circle cx="409.5" cy="255.32" r="4.86"/><circle cx="409.5" cy="256.02" r="4.86"/><circle cx="411" cy="255.3" r="4.86"/>
<circle cx="411" cy="256.09" r="4.86"/><circle cx="412.5" cy="255.28" r="4.86"/><circle cx="412.5" cy="256.16" r="4.86"/><circle cx="414" cy="255.26" r="4.86"/>
<circle cx="414" cy="256.23" r="4.86"/><circle cx="415.5" cy="255.24" r="4.86"/><circle cx="415.5" cy="256.3" r="4.86"/><circle cx="417" cy="255.22" r="4.86"/>
<circle cx="417" cy="256.37" r="4.86"/><circle cx="418.5" cy="255.21" r="4.86"/><circle cx="418.5" cy="256.39" r="4.86"/><circle cx="226" cy="253.16" r="4.86"/>
<circle cx="228.58" cy="256.64" r="4.86"/><circle cx="230.61" cy="254.05" r="4.86"/><circle cx="232.72" cy="256.85" r="4.86"/><circle cx="234.47" cy="254.45" r="4.86"/>
<circle cx="236.33" cy="257.67" r="4.86"/><circle cx="237.93" cy="255.06" r="4.86"/><circle cx="240.07" cy="257.77" r="4.86"/><circle cx="241.84" cy="255.61" r="4.86"/>
<circle cx="243.84" cy="257.96" r="4.86"/><circle cx="245.52" cy="256.24" r="4.86"/><circle cx="248.19" cy="258.31" r="4.86"/><circle cx="250.28" cy="256.89" r="4.86"/>
<circle cx="252.44" cy="258.1" r="4.86"/><circle cx="254.22" cy="255.72" r="4.86"/><circle cx="256.81" cy="257.62" r="4.86"/><circle cx="258.84" cy="255.36" r="4.86"/>
<circle cx="261.5" cy="256.66" r="4.86"/><circle cx="263.58" cy="254.69" r="4.86"/><circle cx="265.77" cy="256.99" r="4.86"/><circle cx="267.56" cy="255.33" r="4.86"/>
<circle cx="269.99" cy="257.71" r="4.86"/><circle cx="271.93" cy="256.13" r="4.86"/><circle cx="274.26" cy="258.13" r="4.86"/><circle cx="276.13" cy="256.72" r="4.86"/>
<circle cx="278.8" cy="258.42" r="4.86"/><circle cx="280.88" cy="256.72" r="4.86"/><circle cx="283.19" cy="257.9" r="4.86"/><circle cx="285.05" cy="256.2" r="4.86"/>
<circle cx="287.12" cy="257.01" r="4.86"/><circle cx="288.83" cy="255.91" r="4.86"/><circle cx="291.34" cy="256.48" r="4.86"/><circle cx="293.32" cy="255.18" r="4.86"/>
<circle cx="295.56" cy="257.08" r="4.86"/><circle cx="297.39" cy="256.34" r="4.86"/><circle cx="299.54" cy="258.35" r="4.86"/><circle cx="301.31" cy="257.13" r="4.86"/>
<circle cx="303.67" cy="258.9" r="4.86"/><circle cx="305.56" cy="257.9" r="4.86"/><circle cx="307.64" cy="260.04" r="4.86"/><circle cx="309.37" cy="258.79" r="4.86"/>
<circle cx="311.3" cy="259.83" r="4.86"/><circle cx="312.93" cy="258.34" r="4.86"/><circle cx="315.28" cy="259.63" r="4.86"/><circle cx="317.17" cy="257.98" r="4.86"/>
<circle cx="319.84" cy="259.02" r="4.86"/><circle cx="321.92" cy="257.54" r="4.86"/><circle cx="323.86" cy="258.87" r="4.86"/><circle cx="325.51" cy="257.03" r="4.86"/>
<circle cx="328.13" cy="258.56" r="4.86"/><circle cx="330.19" cy="256.16" r="4.86"/><circle cx="332.09" cy="257.69" r="4.86"/><circle cx="333.71" cy="256.13" r="4.86"/>
<circle cx="335.87" cy="257.5" r="4.86"/><circle cx="337.64" cy="255.68" r="4.86"/><circle cx="339.96" cy="257.71" r="4.86"/><circle cx="341.83" cy="255.58" r="4.86"/>
<circle cx="343.6" cy="256.9" r="4.86"/><circle cx="345.15" cy="255.13" r="4.86"/><circle cx="347.6" cy="256.5" r="4.86"/><circle cx="349.54" cy="254.87" r="4.86"/>
<circle cx="352.05" cy="256.57" r="4.86"/><circle cx="354.03" cy="254.39" r="4.86"/><circle cx="356.33" cy="255.79" r="4.86"/><circle cx="358.18" cy="254.36" r="4.86"/>
<circle cx="360.62" cy="256.51" r="4.86"/><circle cx="362.56" cy="255.67" r="4.86"/><circle cx="364.31" cy="257.81" r="4.86"/><circle cx="365.84" cy="255.9" r="4.86"/>
<circle cx="368.47" cy="257.64" r="4.86"/><circle cx="370.54" cy="255.9" r="4.86"/><circle cx="373.17" cy="256.72" r="4.86"/><circle cx="375.24" cy="255.31" r="4.86"/>
<circle cx="377.84" cy="256.67" r="4.86"/><circle cx="379.88" cy="254.35" r="4.86"/><circle cx="381.95" cy="256.19" r="4.86"/><circle cx="383.67" cy="254.22" r="4.86"/>
<circle cx="385.44" cy="256.64" r="4.86"/><circle cx="386.98" cy="254.74" r="4.86"/><circle cx="389.3" cy="256.67" r="4.86"/><circle cx="391.17" cy="255.36" r="4.86"/>
<circle cx="393.49" cy="257.69" r="4.86"/><circle cx="395.37" cy="255.16" r="4.86"/><circle cx="397.53" cy="256.94" r="4.86"/><circle cx="399.3" cy="255.38" r="4.86"/>
<circle cx="401.19" cy="256.92" r="4.86"/><circle cx="402.8" cy="255.12" r="4.86"/><circle cx="404.98" cy="256.26" r="4.86"/><circle cx="406.77" cy="254.76" r="4.86"/>
<circle cx="409.12" cy="256.58" r="4.86"/><circle cx="411" cy="254.42" r="4.86"/><circle cx="413.55" cy="256.81" r="4.86"/><circle cx="415.56" cy="254.25" r="4.86"/>
<circle cx="417.44" cy="257.12" r="4.86"/><circle cx="419" cy="252.5" r="4.86"/><circle cx="419" cy="255.05" r="4.86"/><circle cx="419" cy="257.6" r="4.86"/>
<circle cx="421" cy="252.4" r="4.86"/><circle cx="421" cy="254.54" r="4.86"/><circle cx="421" cy="256.67" r="4.86"/><circle cx="423" cy="252.3" r="4.86"/>
<circle cx="423" cy="254.03" r="4.86"/><circle cx="423" cy="255.75" r="4.86"/><circle cx="425" cy="252.74" r="4.86"/><circle cx="425" cy="254.18" r="4.86"/>
<circle cx="425" cy="255.62" r="4.86"/><circle cx="427" cy="253.2" r="4.86"/><circle cx="427" cy="255.53" r="4.86"/><circle cx="429" cy="253.67" r="4.86"/>
<circle cx="429" cy="255.44" r="4.86"/><circle cx="431" cy="253.67" r="4.86"/><circle cx="431" cy="255.83" r="4.86"/><circle cx="433" cy="253.22" r="4.86"/>
<circle cx="433" cy="254.96" r="4.86"/><circle cx="433" cy="256.7" r="4.86"/><circle cx="435" cy="252.77" r="4.86"/><circle cx="435" cy="255.16" r="4.86"/>
<circle cx="435" cy="257.56" r="4.86"/><circle cx="437" cy="252.31" r="4.86"/><circle cx="437" cy="254.35" r="4.86"/><circle cx="437" cy="256.39" r="4.86"/>
<circle cx="437" cy="258.42" r="4.86"/><circle cx="439" cy="250.85" r="4.86"/><circle cx="439" cy="252.95" r="4.86"/><circle cx="439" cy="255.05" r="4.86"/>
<circle cx="439" cy="257.14" r="4.86"/><circle cx="439" cy="259.24" r="4.86"/><circle cx="441" cy="249.05" r="4.86"/><circle cx="441" cy="251.17" r="4.86"/>
<circle cx="441" cy="253.3" r="4.86"/><circle cx="441" cy="255.42" r="4.86"/><circle cx="441" cy="257.54" r="4.86"/><circle cx="441" cy="259.67" r="4.86"/>
<circle cx="443" cy="247.99" r="4.86"/><circle cx="443" cy="250.41" r="4.86"/><circle cx="443" cy="252.83" r="4.86"/><circle cx="443" cy="255.25" r="4.86"/>
<circle cx="443" cy="257.67" r="4.86"/><circle cx="443" cy="260.09" r="4.86"/><circle cx="445" cy="249.16" r="4.86"/><circle cx="445" cy="251.29" r="4.86"/>
<circle cx="445" cy="253.41" r="4.86"/><circle cx="445" cy="255.54" r="4.86"/><circle cx="445" cy="257.67" r="4.86"/><circle cx="445" cy="259.8" r="4.86"/>
<circle cx="447" cy="250.32" r="4.86"/><circle cx="447" cy="252.44" r="4.86"/><circle cx="447" cy="254.56" r="4.86"/><circle cx="447" cy="256.68" r="4.86"/>
<circle cx="447" cy="258.8" r="4.86"/><circle cx="449" cy="250.54" r="4.86"/><circle cx="449" cy="253.04" r="4.86"/><circle cx="449" cy="255.55" r="4.86"/>
<circle cx="449" cy="258.05" r="4.86"/><circle cx="451" cy="250.59" r="4.86"/><circle cx="451" cy="252.83" r="4.86"/><circle cx="451" cy="255.08" r="4.86"/>
<circle cx="451" cy="257.33" r="4.86"/><circle cx="451" cy="259.57" r="4.86"/><circle cx="453" cy="249.32" r="4.86"/><circle cx="453" cy="251.67" r="4.86"/>
<circle cx="453" cy="254.03" r="4.86"/><circle cx="453" cy="256.38" r="4.86"/><circle cx="453" cy="258.74" r="4.86"/><circle cx="453" cy="261.09" r="4.86"/>
<circle cx="455" cy="247.48" r="4.86"/><circle cx="455" cy="249.94" r="4.86"/><circle cx="455" cy="252.4" r="4.86"/><circle cx="455" cy="254.87" r="4.86"/>
<circle cx="455" cy="257.33" r="4.86"/><circle cx="455" cy="259.79" r="4.86"/><circle cx="455" cy="262.25" r="4.86"/><circle cx="457" cy="245.21" r="4.86"/>
<circle cx="457" cy="247.78" r="4.86"/><circle cx="457" cy="250.34" r="4.86"/><circle cx="457" cy="252.9" r="4.86"/><circle cx="457" cy="255.47" r="4.86"/>
<circle cx="457" cy="258.03" r="4.86"/><circle cx="457" cy="260.6" r="4.86"/><circle cx="457" cy="263.16" r="4.86"/><circle cx="459" cy="241.92" r="4.86"/>
<circle cx="459" cy="244.38" r="4.86"/><circle cx="459" cy="246.84" r="4.86"/><circle cx="459" cy="249.31" r="4.86"/><circle cx="459" cy="251.77" r="4.86"/>
<circle cx="459" cy="254.23" r="4.86"/><circle cx="459" cy="256.69" r="4.86"/><circle cx="459" cy="259.15" r="4.86"/><circle cx="459" cy="261.61" r="4.86"/>
<circle cx="459" cy="264.07" r="4.86"/><circle cx="461" cy="241.5" r="4.86"/><circle cx="461" cy="244.1" r="4.86"/><circle cx="461" cy="246.7" r="4.86"/>
<circle cx="461" cy="249.29" r="4.86"/><circle cx="461" cy="251.89" r="4.86"/><circle cx="461" cy="254.48" r="4.86"/><circle cx="461" cy="257.08" r="4.86"/>
<circle cx="461" cy="259.68" r="4.86"/><circle cx="461" cy="262.27" r="4.86"/><circle cx="461" cy="264.87" r="4.86"/><circle cx="463" cy="242.04" r="4.86"/>
<circle cx="463" cy="244.61" r="4.86"/><circle cx="463" cy="247.19" r="4.86"/><circle cx="463" cy="249.77" r="4.86"/><circle cx="463" cy="252.34" r="4.86"/>
<circle cx="463" cy="254.92" r="4.86"/><circle cx="463" cy="257.49" r="4.86"/><circle cx="463" cy="260.07" r="4.86"/><circle cx="463" cy="262.65" r="4.86"/>
<circle cx="463" cy="265.22" r="4.86"/><circle cx="465" cy="242.5" r="4.86"/><circle cx="465" cy="245.07" r="4.86"/><circle cx="465" cy="247.63" r="4.86"/>
<circle cx="465" cy="250.19" r="4.86"/><circle cx="465" cy="252.76" r="4.86"/><circle cx="465" cy="255.32" r="4.86"/><circle cx="465" cy="257.88" r="4.86"/>
<circle cx="465" cy="260.45" r="4.86"/><circle cx="465" cy="263.01" r="4.86"/><circle cx="465" cy="265.57" r="4.86"/><circle cx="467" cy="242.94" r="4.86"/>
<circle cx="467" cy="245.49" r="4.86"/><circle cx="467" cy="248.04" r="4.86"/><circle cx="467" cy="250.6" r="4.86"/><circle cx="467" cy="253.15" r="4.86"/>
<circle cx="467" cy="255.71" r="4.86"/><circle cx="467" cy="258.26" r="4.86"/><circle cx="467" cy="260.82" r="4.86"/><circle cx="467" cy="263.37" r="4.86"/>
<circle cx="467" cy="265.92" r="4.86"/><circle cx="469" cy="244.53" r="4.86"/><circle cx="469" cy="246.97" r="4.86"/><circle cx="469" cy="249.41" r="4.86"/>
<circle cx="469" cy="251.85" r="4.86"/><circle cx="469" cy="254.29" r="4.86"/><circle cx="469" cy="256.73" r="4.86"/><circle cx="469" cy="259.16" r="4.86"/>
<circle cx="469" cy="261.6" r="4.86"/><circle cx="469" cy="264.04" r="4.86"/><circle cx="469" cy="266.48" r="4.86"/><circle cx="471" cy="244.8" r="4.86"/>
<circle cx="471" cy="247.29" r="4.86"/><circle cx="471" cy="249.79" r="4.86"/><circle cx="471" cy="252.28" r="4.86"/><circle cx="471" cy="254.78" r="4.86"/>
<circle cx="471" cy="257.27" r="4.86"/><circle cx="471" cy="259.76" r="4.86"/><circle cx="471" cy="262.26" r="4.86"/><circle cx="471" cy="264.75" r="4.86"/>
<circle cx="471" cy="267.25" r="4.86"/><circle cx="473" cy="244.8" r="4.86"/><circle cx="473" cy="247.38" r="4.86"/><circle cx="473" cy="249.96" r="4.86"/>
<circle cx="473" cy="252.54" r="4.86"/><circle cx="473" cy="255.12" r="4.86"/><circle cx="473" cy="257.69" r="4.86"/><circle cx="473" cy="260.27" r="4.86"/>
<circle cx="473" cy="262.85" r="4.86"/><circle cx="473" cy="265.43" r="4.86"/><circle cx="473" cy="268.01" r="4.86"/><circle cx="475" cy="236.49" r="4.86"/>
<circle cx="475" cy="238.94" r="4.86"/><circle cx="475" cy="241.39" r="4.86"/><circle cx="475" cy="243.84" r="4.86"/><circle cx="475" cy="246.29" r="4.86"/>
<circle cx="475" cy="248.74" r="4.86"/><circle cx="475" cy="251.19" r="4.86"/><circle cx="475" cy="253.64" r="4.86"/><circle cx="475" cy="256.1" r="4.86"/>
<circle cx="475" cy="258.55" r="4.86"/><circle cx="475" cy="261" r="4.86"/><circle cx="477" cy="235.97" r="4.86"/><circle cx="477" cy="238.55" r="4.86"/>
<circle cx="477" cy="241.13" r="4.86"/><circle cx="477" cy="243.71" r="4.86"/><circle cx="477" cy="246.29" r="4.86"/><circle cx="477" cy="248.87" r="4.86"/>
<circle cx="477" cy="251.45" r="4.86"/><circle cx="477" cy="254.02" r="4.86"/><circle cx="477" cy="256.6" r="4.86"/><circle cx="477" cy="259.18" r="4.86"/>
<circle cx="479" cy="235.45" r="4.86"/><circle cx="479" cy="237.93" r="4.86"/><circle cx="479" cy="240.4" r="4.86"/><circle cx="479" cy="242.87" r="4.86"/>
<circle cx="479" cy="245.35" r="4.86"/><circle cx="479" cy="247.82" r="4.86"/><circle cx="479" cy="250.29" r="4.86"/><circle cx="479" cy="252.77" r="4.86"/>
<circle cx="479" cy="255.24" r="4.86"/><circle cx="479" cy="257.71" r="4.86"/><circle cx="479" cy="272.55" r="4.86"/><circle cx="481" cy="234.93" r="4.86"/>
<circle cx="481" cy="237.45" r="4.86"/><circle cx="481" cy="239.98" r="4.86"/><circle cx="481" cy="242.5" r="4.86"/><circle cx="481" cy="245.02" r="4.86"/>
<circle cx="481" cy="247.54" r="4.86"/><circle cx="481" cy="250.06" r="4.86"/><circle cx="481" cy="252.58" r="4.86"/><circle cx="481" cy="255.1" r="4.86"/>
<circle cx="481" cy="257.63" r="4.86"/><circle cx="481" cy="270.23" r="4.86"/><circle cx="483" cy="228.47" r="4.86"/><circle cx="483" cy="230.95" r="4.86"/>
<circle cx="483" cy="233.44" r="4.86"/><circle cx="483" cy="235.92" r="4.86"/><circle cx="483" cy="238.41" r="4.86"/><circle cx="483" cy="240.89" r="4.86"/>
<circle cx="483" cy="243.38" r="4.86"/><circle cx="483" cy="245.86" r="4.86"/><circle cx="483" cy="248.35" r="4.86"/><circle cx="483" cy="250.83" r="4.86"/>
<circle cx="483" cy="253.32" r="4.86"/><circle cx="483" cy="255.8" r="4.86"/><circle cx="483" cy="258.29" r="4.86"/><circle cx="483" cy="260.77" r="4.86"/>
<circle cx="483" cy="270.71" r="4.86"/><circle cx="485" cy="229.31" r="4.86"/><circle cx="485" cy="231.79" r="4.86"/><circle cx="485" cy="234.27" r="4.86"/>
<circle cx="485" cy="236.75" r="4.86"/><circle cx="485" cy="239.23" r="4.86"/><circle cx="485" cy="241.72" r="4.86"/><circle cx="485" cy="244.2" r="4.86"/>
<circle cx="485" cy="246.68" r="4.86"/><circle cx="485" cy="249.16" r="4.86"/><circle cx="485" cy="251.64" r="4.86"/><circle cx="485" cy="259.09" r="4.86"/>
<circle cx="485" cy="261.57" r="4.86"/><circle cx="485" cy="269.02" r="4.86"/><circle cx="485" cy="271.5" r="4.86"/><circle cx="487" cy="230.79" r="4.86"/>
<circle cx="487" cy="238.5" r="4.86"/><circle cx="487" cy="241.07" r="4.86"/><circle cx="487" cy="243.64" r="4.86"/><circle cx="487" cy="246.21" r="4.86"/>
<circle cx="487" cy="248.79" r="4.86"/><circle cx="487" cy="259.07" r="4.86"/><circle cx="487" cy="261.64" r="4.86"/><circle cx="487" cy="264.21" r="4.86"/>
<circle cx="487" cy="266.79" r="4.86"/><circle cx="487" cy="269.36" r="4.86"/><circle cx="487" cy="271.93" r="4.86"/><circle cx="487" cy="274.5" r="4.86"/>
<circle cx="489" cy="240.18" r="4.86"/><circle cx="489" cy="242.64" r="4.86"/><circle cx="489" cy="245.09" r="4.86"/><circle cx="489" cy="247.55" r="4.86"/>
<circle cx="489" cy="259.83" r="4.86"/><circle cx="489" cy="262.29" r="4.86"/><circle cx="489" cy="264.75" r="4.86"/><circle cx="489" cy="267.2" r="4.86"/>
<circle cx="489" cy="269.66" r="4.86"/><circle cx="489" cy="272.12" r="4.86"/><circle cx="489" cy="274.57" r="4.86"/><circle cx="489" cy="277.03" r="4.86"/>
<circle cx="491" cy="243.19" r="4.86"/><circle cx="491" cy="245.76" r="4.86"/><circle cx="491" cy="248.32" r="4.86"/><circle cx="491" cy="261.14" r="4.86"/>
<circle cx="491" cy="263.71" r="4.86"/><circle cx="491" cy="266.27" r="4.86"/><circle cx="491" cy="268.83" r="4.86"/><circle cx="491" cy="271.4" r="4.86"/>
<circle cx="491" cy="273.96" r="4.86"/><circle cx="491" cy="276.53" r="4.86"/><circle cx="491" cy="279.09" r="4.86"/><circle cx="493" cy="245.82" r="4.86"/>
<circle cx="493" cy="248.39" r="4.86"/><circle cx="493" cy="261.27" r="4.86"/><circle cx="493" cy="263.84" r="4.86"/><circle cx="493" cy="266.42" r="4.86"/>
<circle cx="493" cy="268.99" r="4.86"/><circle cx="493" cy="271.57" r="4.86"/><circle cx="493" cy="274.14" r="4.86"/><circle cx="493" cy="276.72" r="4.86"/>
<circle cx="493" cy="279.29" r="4.86"/><circle cx="495" cy="244.46" r="4.86"/><circle cx="495" cy="246.94" r="4.86"/><circle cx="495" cy="249.42" r="4.86"/>
<circle cx="495" cy="251.9" r="4.86"/><circle cx="495" cy="256.86" r="4.86"/><circle cx="495" cy="259.33" r="4.86"/><circle cx="495" cy="261.81" r="4.86"/>
<circle cx="495" cy="264.29" r="4.86"/><circle cx="495" cy="266.77" r="4.86"/><circle cx="495" cy="269.25" r="4.86"/><circle cx="495" cy="271.73" r="4.86"/>
<circle cx="495" cy="274.21" r="4.86"/><circle cx="495" cy="276.69" r="4.86"/><circle cx="495" cy="279.17" r="4.86"/><circle cx="497" cy="222.17" r="4.86"/>
<circle cx="497" cy="245.43" r="4.86"/><circle cx="497" cy="248.02" r="4.86"/><circle cx="497" cy="250.61" r="4.86"/><circle cx="497" cy="253.19" r="4.86"/>
<circle cx="497" cy="255.78" r="4.86"/><circle cx="497" cy="258.36" r="4.86"/><circle cx="497" cy="260.95" r="4.86"/><circle cx="497" cy="263.53" r="4.86"/>
<circle cx="497" cy="266.12" r="4.86"/><circle cx="497" cy="268.7" r="4.86"/><circle cx="497" cy="271.29" r="4.86"/><circle cx="497" cy="273.87" r="4.86"/>
<circle cx="497" cy="276.46" r="4.86"/><circle cx="497" cy="279.04" r="4.86"/><circle cx="499" cy="243.23" r="4.86"/><circle cx="499" cy="245.78" r="4.86"/>
<circle cx="499" cy="248.33" r="4.86"/><circle cx="499" cy="250.88" r="4.86"/><circle cx="499" cy="253.43" r="4.86"/><circle cx="499" cy="255.97" r="4.86"/>
<circle cx="499" cy="258.52" r="4.86"/><circle cx="499" cy="261.07" r="4.86"/><circle cx="499" cy="263.62" r="4.86"/><circle cx="499" cy="266.17" r="4.86"/>
<circle cx="499" cy="268.72" r="4.86"/><circle cx="499" cy="271.27" r="4.86"/><circle cx="499" cy="273.82" r="4.86"/><circle cx="499" cy="276.37" r="4.86"/>
<circle cx="499" cy="278.92" r="4.86"/><circle cx="501" cy="236.8" r="4.86"/><circle cx="501" cy="239.34" r="4.86"/><circle cx="501" cy="241.88" r="4.86"/>
<circle cx="501" cy="244.42" r="4.86"/><circle cx="501" cy="246.96" r="4.86"/><circle cx="501" cy="249.5" r="4.86"/><circle cx="501" cy="252.04" r="4.86"/>
<circle cx="501" cy="254.58" r="4.86"/><circle cx="501" cy="257.12" r="4.86"/><circle cx="501" cy="259.66" r="4.86"/><circle cx="501" cy="262.19" r="4.86"/>
<circle cx="501" cy="264.73" r="4.86"/><circle cx="501" cy="267.27" r="4.86"/><circle cx="501" cy="269.81" r="4.86"/><circle cx="501" cy="272.35" r="4.86"/>
<circle cx="503" cy="236.8" r="4.86"/><circle cx="503" cy="239.26" r="4.86"/><circle cx="503" cy="241.71" r="4.86"/><circle cx="503" cy="244.17" r="4.86"/>
<circle cx="503" cy="246.62" r="4.86"/><circle cx="503" cy="249.08" r="4.86"/><circle cx="503" cy="251.53" r="4.86"/><circle cx="503" cy="253.99" r="4.86"/>
<circle cx="503" cy="256.44" r="4.86"/><circle cx="503" cy="258.9" r="4.86"/><circle cx="503" cy="261.35" r="4.86"/><circle cx="503" cy="263.81" r="4.86"/>
<circle cx="503" cy="266.27" r="4.86"/><circle cx="503" cy="268.72" r="4.86"/><circle cx="503" cy="271.18" r="4.86"/><circle cx="505" cy="236.8" r="4.86"/>
<circle cx="505" cy="239.35" r="4.86"/><circle cx="505" cy="241.89" r="4.86"/><circle cx="505" cy="244.44" r="4.86"/><circle cx="505" cy="246.98" r="4.86"/>
<circle cx="505" cy="249.53" r="4.86"/><circle cx="505" cy="252.07" r="4.86"/><circle cx="505" cy="254.62" r="4.86"/><circle cx="505" cy="257.16" r="4.86"/>
<circle cx="505" cy="259.71" r="4.86"/><circle cx="505" cy="262.25" r="4.86"/><circle cx="505" cy="264.8" r="4.86"/><circle cx="505" cy="267.34" r="4.86"/>
<circle cx="505" cy="269.89" r="4.86"/><circle cx="507" cy="236.28" r="4.86"/><circle cx="507" cy="238.76" r="4.86"/><circle cx="507" cy="241.25" r="4.86"/>
<circle cx="507" cy="243.73" r="4.86"/><circle cx="507" cy="246.22" r="4.86"/><circle cx="507" cy="248.7" r="4.86"/><circle cx="507" cy="251.19" r="4.86"/>
<circle cx="507" cy="253.67" r="4.86"/><circle cx="507" cy="256.16" r="4.86"/><circle cx="507" cy="258.64" r="4.86"/><circle cx="507" cy="261.13" r="4.86"/>
<circle cx="507" cy="263.61" r="4.86"/><circle cx="507" cy="266.1" r="4.86"/><circle cx="507" cy="268.58" r="4.86"/><circle cx="509" cy="237.6" r="4.86"/>
<circle cx="509" cy="240.1" r="4.86"/><circle cx="509" cy="242.6" r="4.86"/><circle cx="509" cy="245.1" r="4.86"/><circle cx="509" cy="247.6" r="4.86"/>
<circle cx="509" cy="250.1" r="4.86"/><circle cx="509" cy="252.6" r="4.86"/><circle cx="509" cy="255.1" r="4.86"/><circle cx="509" cy="257.6" r="4.86"/>
<circle cx="509" cy="260.1" r="4.86"/><circle cx="509" cy="262.6" r="4.86"/><circle cx="509" cy="265.1" r="4.86"/><circle cx="509" cy="267.6" r="4.86"/>
<circle cx="511" cy="240.7" r="4.86"/><circle cx="511" cy="243.15" r="4.86"/><circle cx="511" cy="245.59" r="4.86"/><circle cx="511" cy="248.04" r="4.86"/>
<circle cx="511" cy="250.48" r="4.86"/><circle cx="511" cy="252.93" r="4.86"/><circle cx="511" cy="255.37" r="4.86"/><circle cx="511" cy="257.82" r="4.86"/>
<circle cx="511" cy="260.26" r="4.86"/><circle cx="511" cy="262.71" r="4.86"/><circle cx="511" cy="265.15" r="4.86"/><circle cx="511" cy="267.6" r="4.86"/>
<circle cx="513" cy="242.81" r="4.86"/><circle cx="513" cy="245.29" r="4.86"/><circle cx="513" cy="247.77" r="4.86"/><circle cx="513" cy="250.24" r="4.86"/>
<circle cx="513" cy="252.72" r="4.86"/><circle cx="513" cy="255.2" r="4.86"/><circle cx="513" cy="257.68" r="4.86"/><circle cx="513" cy="260.16" r="4.86"/>
<circle cx="513" cy="262.64" r="4.86"/><circle cx="513" cy="265.12" r="4.86"/><circle cx="513" cy="267.6" r="4.86"/><circle cx="515" cy="244.22" r="4.86"/>
<circle cx="515" cy="246.82" r="4.86"/><circle cx="515" cy="249.42" r="4.86"/><circle cx="515" cy="252.01" r="4.86"/><circle cx="515" cy="254.61" r="4.86"/>
<circle cx="515" cy="257.21" r="4.86"/><circle cx="515" cy="259.81" r="4.86"/><circle cx="515" cy="262.4" r="4.86"/><circle cx="515" cy="265" r="4.86"/>
<circle cx="515" cy="267.6" r="4.86"/><circle cx="517" cy="245.63" r="4.86"/><circle cx="517" cy="248.23" r="4.86"/><circle cx="517" cy="250.82" r="4.86"/>
<circle cx="517" cy="253.41" r="4.86"/><circle cx="517" cy="256" r="4.86"/><circle cx="517" cy="258.6" r="4.86"/><circle cx="517" cy="261.19" r="4.86"/>
<circle cx="517" cy="263.78" r="4.86"/><circle cx="517" cy="266.37" r="4.86"/><circle cx="517" cy="268.97" r="4.86"/><circle cx="517" cy="271.56" r="4.86"/>
<circle cx="517" cy="274.15" r="4.86"/><circle cx="517" cy="276.74" r="4.86"/><circle cx="517" cy="279.34" r="4.86"/><circle cx="517" cy="281.93" r="4.86"/>
<circle cx="517" cy="284.52" r="4.86"/><circle cx="517" cy="287.11" r="4.86"/><circle cx="517" cy="289.71" r="4.86"/><circle cx="517" cy="292.3" r="4.86"/>
<circle cx="519" cy="246.02" r="4.86"/><circle cx="519" cy="248.51" r="4.86"/><circle cx="519" cy="251" r="4.86"/><circle cx="519" cy="253.49" r="4.86"/>
<circle cx="519" cy="255.98" r="4.86"/><circle cx="519" cy="258.47" r="4.86"/><circle cx="519" cy="260.96" r="4.86"/><circle cx="519" cy="263.45" r="4.86"/>
<circle cx="519" cy="265.94" r="4.86"/><circle cx="519" cy="268.43" r="4.86"/><circle cx="519" cy="270.92" r="4.86"/><circle cx="519" cy="273.41" r="4.86"/>
<circle cx="519" cy="275.9" r="4.86"/><circle cx="519" cy="278.39" r="4.86"/><circle cx="519" cy="280.88" r="4.86"/><circle cx="521" cy="245.71" r="4.86"/>
<circle cx="521" cy="248.2" r="4.86"/><circle cx="521" cy="250.68" r="4.86"/><circle cx="521" cy="253.17" r="4.86"/><circle cx="521" cy="255.65" r="4.86"/>
<circle cx="521" cy="258.14" r="4.86"/><circle cx="521" cy="260.62" r="4.86"/><circle cx="521" cy="263.11" r="4.86"/><circle cx="521" cy="265.59" r="4.86"/>
<circle cx="521" cy="268.08" r="4.86"/><circle cx="521" cy="270.56" r="4.86"/><circle cx="521" cy="273.05" r="4.86"/><circle cx="521" cy="275.53" r="4.86"/>
<circle cx="521" cy="278.02" r="4.86"/><circle cx="521" cy="280.5" r="4.86"/><circle cx="523" cy="231.17" r="4.86"/><circle cx="523" cy="233.67" r="4.86"/>
<circle cx="523" cy="236.18" r="4.86"/><circle cx="523" cy="238.69" r="4.86"/><circle cx="523" cy="241.2" r="4.86"/><circle cx="523" cy="243.71" r="4.86"/>
<circle cx="523" cy="246.22" r="4.86"/><circle cx="523" cy="248.72" r="4.86"/><circle cx="523" cy="251.23" r="4.86"/><circle cx="523" cy="253.74" r="4.86"/>
<circle cx="523" cy="256.25" r="4.86"/><circle cx="523" cy="258.76" r="4.86"/><circle cx="523" cy="261.26" r="4.86"/><circle cx="523" cy="263.77" r="4.86"/>
<circle cx="523" cy="266.28" r="4.86"/><circle cx="523" cy="268.79" r="4.86"/><circle cx="523" cy="271.3" r="4.86"/><circle cx="523" cy="273.81" r="4.86"/>
<circle cx="523" cy="276.31" r="4.86"/><circle cx="523" cy="278.82" r="4.86"/><circle cx="523" cy="281.33" r="4.86"/><circle cx="525" cy="230.84" r="4.86"/>
<circle cx="525" cy="233.41" r="4.86"/><circle cx="525" cy="235.97" r="4.86"/><circle cx="525" cy="238.54" r="4.86"/><circle cx="525" cy="241.11" r="4.86"/>
<circle cx="525" cy="243.67" r="4.86"/><circle cx="525" cy="246.24" r="4.86"/><circle cx="525" cy="248.8" r="4.86"/><circle cx="525" cy="251.37" r="4.86"/>
<circle cx="525" cy="253.94" r="4.86"/><circle cx="525" cy="256.5" r="4.86"/><circle cx="525" cy="259.07" r="4.86"/><circle cx="525" cy="261.63" r="4.86"/>
<circle cx="525" cy="264.2" r="4.86"/><circle cx="525" cy="266.76" r="4.86"/><circle cx="525" cy="269.33" r="4.86"/><circle cx="525" cy="271.9" r="4.86"/>
<circle cx="525" cy="274.46" r="4.86"/><circle cx="525" cy="277.03" r="4.86"/><circle cx="525" cy="279.59" r="4.86"/><circle cx="525" cy="282.16" r="4.86"/>
<circle cx="527" cy="234.95" r="4.86"/><circle cx="527" cy="237.49" r="4.86"/><circle cx="527" cy="240.03" r="4.86"/><circle cx="527" cy="242.56" r="4.86"/>
<circle cx="527" cy="245.1" r="4.86"/><circle cx="527" cy="247.64" r="4.86"/><circle cx="527" cy="250.18" r="4.86"/><circle cx="527" cy="252.72" r="4.86"/>
<circle cx="527" cy="255.26" r="4.86"/><circle cx="527" cy="257.8" r="4.86"/><circle cx="527" cy="260.34" r="4.86"/><circle cx="527" cy="262.88" r="4.86"/>
<circle cx="527" cy="265.42" r="4.86"/><circle cx="527" cy="267.96" r="4.86"/><circle cx="527" cy="270.5" r="4.86"/><circle cx="527" cy="273.03" r="4.86"/>
<circle cx="527" cy="275.57" r="4.86"/><circle cx="527" cy="278.11" r="4.86"/><circle cx="527" cy="280.65" r="4.86"/><circle cx="529" cy="235.33" r="4.86"/>
<circle cx="529" cy="237.8" r="4.86"/><circle cx="529" cy="240.27" r="4.86"/><circle cx="529" cy="242.73" r="4.86"/><circle cx="529" cy="245.2" r="4.86"/>
<circle cx="529" cy="247.67" r="4.86"/><circle cx="529" cy="250.13" r="4.86"/><circle cx="529" cy="252.6" r="4.86"/><circle cx="529" cy="255.07" r="4.86"/>
<circle cx="529" cy="257.53" r="4.86"/><circle cx="529" cy="260" r="4.86"/><circle cx="529" cy="262.47" r="4.86"/><circle cx="529" cy="264.93" r="4.86"/>
<circle cx="529" cy="267.4" r="4.86"/><circle cx="529" cy="269.87" r="4.86"/><circle cx="529" cy="272.33" r="4.86"/><circle cx="529" cy="274.8" r="4.86"/>
<circle cx="531" cy="232" r="4.86"/><circle cx="531" cy="234.47" r="4.86"/><circle cx="531" cy="236.95" r="4.86"/><circle cx="531" cy="239.42" r="4.86"/>
<circle cx="531" cy="241.9" r="4.86"/><circle cx="531" cy="244.37" r="4.86"/><circle cx="531" cy="246.85" r="4.86"/><circle cx="531" cy="249.32" r="4.86"/>
<circle cx="531" cy="251.8" r="4.86"/><circle cx="531" cy="254.27" r="4.86"/><circle cx="531" cy="256.75" r="4.86"/><circle cx="531" cy="259.22" r="4.86"/>
<circle cx="531" cy="261.7" r="4.86"/><circle cx="531" cy="264.17" r="4.86"/><circle cx="531" cy="266.65" r="4.86"/><circle cx="533" cy="231.9" r="4.86"/>
<circle cx="533" cy="234.32" r="4.86"/><circle cx="533" cy="236.73" r="4.86"/><circle cx="533" cy="239.15" r="4.86"/><circle cx="533" cy="241.56" r="4.86"/>
<circle cx="533" cy="243.98" r="4.86"/><circle cx="533" cy="246.39" r="4.86"/><circle cx="533" cy="248.81" r="4.86"/><circle cx="533" cy="251.22" r="4.86"/>
<circle cx="533" cy="253.64" r="4.86"/><circle cx="533" cy="256.05" r="4.86"/><circle cx="533" cy="258.47" r="4.86"/><circle cx="533" cy="260.88" r="4.86"/>
<circle cx="535" cy="232" r="4.86"/><circle cx="535" cy="234.44" r="4.86"/><circle cx="535" cy="236.88" r="4.86"/><circle cx="535" cy="239.32" r="4.86"/>
<circle cx="535" cy="241.76" r="4.86"/><circle cx="535" cy="244.2" r="4.86"/><circle cx="535" cy="246.64" r="4.86"/><circle cx="535" cy="249.08" r="4.86"/>
<circle cx="535" cy="251.52" r="4.86"/><circle cx="535" cy="253.96" r="4.86"/><circle cx="535" cy="256.4" r="4.86"/><circle cx="537" cy="232.1" r="4.86"/>
<circle cx="537" cy="234.62" r="4.86"/><circle cx="537" cy="237.14" r="4.86"/><circle cx="537" cy="239.67" r="4.86"/><circle cx="537" cy="242.19" r="4.86"/>
<circle cx="537" cy="244.71" r="4.86"/><circle cx="537" cy="247.23" r="4.86"/><circle cx="537" cy="249.76" r="4.86"/><circle cx="537" cy="252.28" r="4.86"/>
<circle cx="537" cy="254.8" r="4.86"/><circle cx="539" cy="230.7" r="4.86"/><circle cx="539" cy="233.11" r="4.86"/><circle cx="539" cy="235.52" r="4.86"/>
<circle cx="539" cy="237.93" r="4.86"/><circle cx="539" cy="240.34" r="4.86"/><circle cx="539" cy="242.75" r="4.86"/><circle cx="539" cy="245.16" r="4.86"/>
<circle cx="539" cy="247.57" r="4.86"/><circle cx="539" cy="249.98" r="4.86"/><circle cx="539" cy="252.39" r="4.86"/><circle cx="539" cy="254.8" r="4.86"/>
<circle cx="541" cy="228.36" r="4.86"/><circle cx="541" cy="230.87" r="4.86"/><circle cx="541" cy="233.37" r="4.86"/><circle cx="541" cy="235.87" r="4.86"/>
<circle cx="541" cy="238.38" r="4.86"/><circle cx="541" cy="240.88" r="4.86"/><circle cx="541" cy="243.38" r="4.86"/><circle cx="541" cy="255.9" r="4.86"/>
<circle cx="543" cy="222.89" r="4.86"/><circle cx="543" cy="225.47" r="4.86"/><circle cx="543" cy="228.04" r="4.86"/><circle cx="543" cy="230.61" r="4.86"/>
<circle cx="543" cy="233.19" r="4.86"/><circle cx="543" cy="235.76" r="4.86"/><circle cx="543" cy="238.33" r="4.86"/><circle cx="543" cy="240.91" r="4.86"/>
<circle cx="543" cy="243.48" r="4.86"/><circle cx="543" cy="256.35" r="4.86"/><circle cx="543" cy="258.92" r="4.86"/><circle cx="545" cy="221.01" r="4.86"/>
<circle cx="545" cy="223.52" r="4.86"/><circle cx="545" cy="226.03" r="4.86"/><circle cx="545" cy="228.53" r="4.86"/><circle cx="545" cy="231.04" r="4.86"/>
<circle cx="545" cy="233.54" r="4.86"/><circle cx="545" cy="236.05" r="4.86"/><circle cx="545" cy="238.56" r="4.86"/><circle cx="545" cy="241.06" r="4.86"/>
<circle cx="545" cy="243.57" r="4.86"/><circle cx="545" cy="258.6" r="4.86"/><circle cx="545" cy="261.11" r="4.86"/><circle cx="547" cy="221.43" r="4.86"/>
<circle cx="547" cy="223.89" r="4.86"/><circle cx="547" cy="226.35" r="4.86"/><circle cx="547" cy="228.81" r="4.86"/><circle cx="547" cy="231.28" r="4.86"/>
<circle cx="547" cy="233.74" r="4.86"/><circle cx="547" cy="236.2" r="4.86"/><circle cx="547" cy="238.66" r="4.86"/><circle cx="547" cy="241.12" r="4.86"/>
<circle cx="547" cy="243.58" r="4.86"/><circle cx="547" cy="258.34" r="4.86"/><circle cx="549" cy="221.34" r="4.86"/><circle cx="549" cy="223.78" r="4.86"/>
<circle cx="549" cy="226.23" r="4.86"/><circle cx="549" cy="228.68" r="4.86"/><circle cx="549" cy="231.12" r="4.86"/><circle cx="549" cy="233.57" r="4.86"/>
<circle cx="549" cy="236.01" r="4.86"/><circle cx="549" cy="238.46" r="4.86"/><circle cx="549" cy="240.9" r="4.86"/><circle cx="549" cy="243.35" r="4.86"/>
<circle cx="549" cy="245.79" r="4.86"/><circle cx="551" cy="220.9" r="4.86"/><circle cx="551" cy="223.45" r="4.86"/><circle cx="551" cy="226" r="4.86"/>
<circle cx="551" cy="228.55" r="4.86"/><circle cx="551" cy="231.1" r="4.86"/><circle cx="551" cy="233.65" r="4.86"/><circle cx="551" cy="236.2" r="4.86"/>
<circle cx="551" cy="238.75" r="4.86"/><circle cx="551" cy="241.3" r="4.86"/><circle cx="551" cy="243.85" r="4.86"/><circle cx="551" cy="246.4" r="4.86"/>
<circle cx="553" cy="220.89" r="4.86"/><circle cx="553" cy="223.44" r="4.86"/><circle cx="553" cy="225.99" r="4.86"/><circle cx="553" cy="228.55" r="4.86"/>
<circle cx="553" cy="231.1" r="4.86"/><circle cx="553" cy="233.65" r="4.86"/><circle cx="553" cy="236.2" r="4.86"/><circle cx="553" cy="238.75" r="4.86"/>
<circle cx="553" cy="241.3" r="4.86"/><circle cx="553" cy="243.85" r="4.86"/><circle cx="553" cy="246.4" r="4.86"/><circle cx="555" cy="221.87" r="4.86"/>
<circle cx="555" cy="224.34" r="4.86"/><circle cx="555" cy="226.81" r="4.86"/><circle cx="555" cy="229.28" r="4.86"/><circle cx="555" cy="231.75" r="4.86"/>
<circle cx="555" cy="234.22" r="4.86"/><circle cx="555" cy="236.69" r="4.86"/><circle cx="555" cy="239.15" r="4.86"/><circle cx="555" cy="244.09" r="4.86"/>
<circle cx="555" cy="246.56" r="4.86"/><circle cx="555" cy="249.03" r="4.86"/><circle cx="559" cy="252.99" r="4.86"/><circle cx="559" cy="255.35" r="4.86"/>
<circle cx="559" cy="257.72" r="4.86"/><circle cx="559" cy="260.08" r="4.86"/><circle cx="559" cy="262.44" r="4.86"/><circle cx="559" cy="264.81" r="4.86"/>
<circle cx="559" cy="267.17" r="4.86"/><circle cx="561" cy="254.26" r="4.86"/><circle cx="561" cy="256.64" r="4.86"/><circle cx="561" cy="259.02" r="4.86"/>
<circle cx="561" cy="261.4" r="4.86"/><circle cx="561" cy="263.78" r="4.86"/><circle cx="561" cy="266.16" r="4.86"/><circle cx="561" cy="268.54" r="4.86"/>
<circle cx="561" cy="270.92" r="4.86"/><circle cx="563" cy="254.35" r="4.86"/><circle cx="563" cy="256.82" r="4.86"/><circle cx="563" cy="259.3" r="4.86"/>
<circle cx="563" cy="261.77" r="4.86"/><circle cx="563" cy="264.25" r="4.86"/><circle cx="563" cy="266.72" r="4.86"/><circle cx="563" cy="269.2" r="4.86"/>
<circle cx="563" cy="271.67" r="4.86"/><circle cx="565" cy="253.05" r="4.86"/><circle cx="565" cy="255.47" r="4.86"/><circle cx="565" cy="257.89" r="4.86"/>
<circle cx="565" cy="260.31" r="4.86"/><circle cx="565" cy="262.73" r="4.86"/><circle cx="565" cy="265.15" r="4.86"/><circle cx="565" cy="267.57" r="4.86"/>
<circle cx="565" cy="269.99" r="4.86"/><circle cx="567" cy="243.45" r="4.86"/><circle cx="567" cy="245.94" r="4.86"/><circle cx="567" cy="248.42" r="4.86"/>
<circle cx="567" cy="250.91" r="4.86"/><circle cx="567" cy="253.39" r="4.86"/><circle cx="567" cy="255.88" r="4.86"/><circle cx="567" cy="258.36" r="4.86"/>
<circle cx="567" cy="260.85" r="4.86"/><circle cx="567" cy="263.33" r="4.86"/><circle cx="567" cy="265.82" r="4.86"/><circle cx="567" cy="268.3" r="4.86"/>
<circle cx="569" cy="240.01" r="4.86"/><circle cx="569" cy="242.45" r="4.86"/><circle cx="569" cy="244.89" r="4.86"/><circle cx="569" cy="247.33" r="4.86"/>
<circle cx="569" cy="249.77" r="4.86"/><circle cx="569" cy="252.21" r="4.86"/><circle cx="569" cy="254.65" r="4.86"/><circle cx="569" cy="257.09" r="4.86"/>
<circle cx="569" cy="259.53" r="4.86"/><circle cx="569" cy="261.97" r="4.86"/><circle cx="569" cy="264.41" r="4.86"/><circle cx="569" cy="266.85" r="4.86"/>
<circle cx="571" cy="241.51" r="4.86"/><circle cx="571" cy="243.9" r="4.86"/><circle cx="571" cy="246.29" r="4.86"/><circle cx="571" cy="248.68" r="4.86"/>
<circle cx="571" cy="251.07" r="4.86"/><circle cx="571" cy="263" r="4.86"/><circle cx="571" cy="265.39" r="4.86"/><circle cx="573" cy="242.9" r="4.86"/>
<circle cx="573" cy="245.29" r="4.86"/><circle cx="573" cy="247.69" r="4.86"/><circle cx="573" cy="250.08" r="4.86"/><circle cx="573" cy="264.45" r="4.86"/>
<circle cx="575" cy="243.37" r="4.86"/><circle cx="575" cy="245.78" r="4.86"/><circle cx="575" cy="248.19" r="4.86"/><circle cx="575" cy="250.61" r="4.86"/>
<circle cx="575" cy="265.07" r="4.86"/><circle cx="577" cy="243.66" r="4.86"/><circle cx="577" cy="246.11" r="4.86"/><circle cx="577" cy="248.55" r="4.86"/>
<circle cx="577" cy="251" r="4.86"/><circle cx="577" cy="265.69" r="4.86"/><circle cx="123.5" cy="197.5" r="4.86"/><circle cx="496.5" cy="189.5" r="4.86"/>
<circle cx="158.6" cy="234.45" r="4.86"/><circle cx="489.7" cy="292.3" r="4.86"/><circle cx="562.3" cy="285.5" r="4.86"/><circle cx="561.3" cy="290.2" r="4.86"/>
<circle cx="80.5" cy="238.4" r="4.86"/><circle cx="90.8" cy="236.7" r="4.86"/><circle cx="101.9" cy="231.7" r="4.86"/><circle cx="106.4" cy="225.6" r="4.86"/>
<circle cx="109.2" cy="229.2" r="4.86"/><circle cx="120.5" cy="221.4" r="4.86"/><circle cx="121.3" cy="216.3" r="4.86"/><circle cx="125.5" cy="216.3" r="4.86"/>
<circle cx="125.3" cy="225.3" r="4.86"/><circle cx="122.8" cy="229.5" r="4.86"/><circle cx="136.4" cy="228.4" r="4.86"/><circle cx="136.8" cy="235" r="4.86"/>
<circle cx="136.6" cy="241" r="4.86"/><circle cx="152.5" cy="249.2" r="4.86"/><circle cx="159.8" cy="245.9" r="4.86"/><circle cx="162.5" cy="250" r="4.86"/>
<circle cx="176.3" cy="227.7" r="4.86"/><circle cx="177.8" cy="230.6" r="4.86"/><circle cx="176.6" cy="239.8" r="4.86"/><circle cx="183.9" cy="240" r="4.86"/>
<circle cx="175.5" cy="254.5" r="4.86"/><circle cx="179.5" cy="251.5" r="4.86"/><circle cx="181.5" cy="246.5" r="4.86"/><circle cx="192.5" cy="247.8" r="4.86"/>
<circle cx="199.4" cy="245.9" r="4.86"/><circle cx="206.6" cy="243.6" r="4.86"/><circle cx="210.5" cy="247.8" r="4.86"/><circle cx="213.8" cy="249.9" r="4.86"/>
<circle cx="221.3" cy="252.1" r="4.86"/><circle cx="228.8" cy="253" r="4.86"/><circle cx="81.6" cy="277.1" r="4.86"/><circle cx="86" cy="267.5" r="4.86"/>
<circle cx="95.4" cy="285.5" r="4.86"/><circle cx="95.8" cy="280.8" r="4.86"/><circle cx="96" cy="276.3" r="4.86"/><circle cx="96.6" cy="268.8" r="4.86"/>
<circle cx="110.6" cy="266.9" r="4.86"/><circle cx="117" cy="270.6" r="4.86"/><circle cx="116.6" cy="277.5" r="4.86"/><circle cx="116.3" cy="285" r="4.86"/>
<circle cx="117.3" cy="294.9" r="4.86"/><circle cx="126.6" cy="268" r="4.86"/><circle cx="130.4" cy="276.3" r="4.86"/><circle cx="129.2" cy="283.8" r="4.86"/>
<circle cx="131.4" cy="292.4" r="4.86"/><circle cx="137.3" cy="269.4" r="4.86"/><circle cx="143" cy="269" r="4.86"/><circle cx="148.5" cy="269.5" r="4.86"/>
<circle cx="156.4" cy="278.2" r="4.86"/><circle cx="167.7" cy="286.2" r="4.86"/><circle cx="172.6" cy="289.4" r="4.86"/><circle cx="173.6" cy="282.6" r="4.86"/>
<circle cx="175.1" cy="277.5" r="4.86"/><circle cx="175.1" cy="275" r="4.86"/><circle cx="190.6" cy="269.5" r="4.86"/><circle cx="202.5" cy="263.6" r="4.86"/>
<circle cx="210.6" cy="259.1" r="4.86"/><circle cx="215" cy="257.5" r="4.86"/><circle cx="220" cy="255.4" r="4.86"/><circle cx="228.8" cy="256.4" r="4.86"/>
<circle cx="423.1" cy="250.1" r="4.86"/><circle cx="437.5" cy="250" r="4.86"/><circle cx="442.5" cy="245.5" r="4.86"/><circle cx="456.4" cy="244" r="4.86"/>
<circle cx="459.5" cy="238.9" r="4.86"/><circle cx="463.6" cy="240" r="4.86"/><circle cx="473.8" cy="234.6" r="4.86"/><circle cx="481.9" cy="232.5" r="4.86"/>
<circle cx="483.1" cy="225.7" r="4.86"/><circle cx="488.1" cy="229.4" r="4.86"/><circle cx="495" cy="221.3" r="4.86"/><circle cx="499.8" cy="220.9" r="4.86"/>
<circle cx="507.5" cy="222.5" r="4.86"/><circle cx="508.3" cy="226.9" r="4.86"/><circle cx="496.9" cy="227.5" r="4.86"/><circle cx="497.5" cy="232.5" r="4.86"/>
<circle cx="506.2" cy="236.4" r="4.86"/><circle cx="508.4" cy="201.3" r="4.86"/><circle cx="511.7" cy="202.4" r="4.86"/><circle cx="505" cy="205.2" r="4.86"/>
<circle cx="512" cy="239.9" r="4.86"/><circle cx="523.8" cy="228.9" r="4.86"/><circle cx="523.9" cy="235" r="4.86"/><circle cx="524.1" cy="241" r="4.86"/>
<circle cx="533.1" cy="229.7" r="4.86"/><circle cx="537" cy="229.9" r="4.86"/><circle cx="542.2" cy="224.2" r="4.86"/><circle cx="543.5" cy="218.5" r="4.86"/>
<circle cx="547.8" cy="219.4" r="4.86"/><circle cx="552.4" cy="218.4" r="4.86"/><circle cx="556.9" cy="220.6" r="4.86"/><circle cx="556.3" cy="228.8" r="4.86"/>
<circle cx="556" cy="235" r="4.86"/><circle cx="568.1" cy="233.6" r="4.86"/><circle cx="575.6" cy="229.3" r="4.86"/><circle cx="571.5" cy="240.3" r="4.86"/>
<circle cx="418.8" cy="257.6" r="4.86"/><circle cx="430" cy="257.6" r="4.86"/><circle cx="438.8" cy="261.4" r="4.86"/><circle cx="448.8" cy="260.1" r="4.86"/>
<circle cx="453.8" cy="263.9" r="4.86"/><circle cx="460.6" cy="267" r="4.86"/><circle cx="468" cy="268.3" r="4.86"/><circle cx="478.7" cy="275.1" r="4.86"/>
<circle cx="491.3" cy="281.6" r="4.86"/><circle cx="499.3" cy="281.1" r="4.86"/><circle cx="500" cy="273.8" r="4.86"/><circle cx="514.3" cy="287.5" r="4.86"/>
<circle cx="517.5" cy="294.5" r="4.86"/><circle cx="511.6" cy="300.3" r="4.86"/><circle cx="515.5" cy="278" r="4.86"/><circle cx="526.3" cy="284.9" r="4.86"/>
<circle cx="530.6" cy="270" r="4.86"/><circle cx="529" cy="277" r="4.86"/><circle cx="544.5" cy="264" r="4.86"/><circle cx="549.2" cy="257.5" r="4.86"/>
<circle cx="558" cy="267.5" r="4.86"/><circle cx="561.9" cy="274.8" r="4.86"/><circle cx="567" cy="270.5" r="4.86"/><circle cx="572.5" cy="266.5" r="4.86"/>
</g>
<g class="t">
<line x1="80.5" y1="427.5" x2="80.5" y2="432.5"/>
<line x1="179.5" y1="427.5" x2="179.5" y2="432.5"/>
<line x1="278.5" y1="427.5" x2="278.5" y2="432.5"/>
<line x1="378.5" y1="427.5" x2="378.5" y2="432.5"/>
<line x1="477.5" y1="427.5" x2="477.5" y2="432.5"/>
<line x1="576.5" y1="427.5" x2="576.5" y2="432.5"/>
<line x1="75.5" y1="427.5" x2="80.5" y2="427.5"/>
<line x1="75.5" y1="353.5" x2="80.5" y2="353.5"/>
<line x1="75.5" y1="279.5" x2="80.5" y2="279.5"/>
<line x1="75.5" y1="205.5" x2="80.5" y2="205.5"/>
<line x1="75.5" y1="132.5" x2="80.5" y2="132.5"/>
<line x1="75.5" y1="58.5" x2="80.5" y2="58.5"/>
</g>
<g fill="#000">
<rect x="79.947" y="57.947" width="1.2" height="370.106"/>
<rect x="575.853" y="57.947" width="1.2" height="370.106"/>
<rect x="79.947" y="57.947" width="497.106" height="1.2"/>
<rect x="79.947" y="426.853" width="497.106" height="1.2"/>
</g>
<g text-anchor="middle">
<text x="80.1" y="447.5">60942.00</text>
<text x="179.1" y="447.5">60942.20</text>
<text x="278.1" y="447.5">60942.40</text>
<text x="378.1" y="447.5">60942.60</text>
<text x="477.1" y="447.5">60942.80</text>
<text x="576.1" y="447.5">60943.00</text>
<text x="327.45" y="466.5">MJD</text>
</g>
<g text-anchor="end">
<text x="70.94" y="432.7">0.00</text>
<text x="70.94" y="358.7">0.20</text>
<text x="70.95" y="284.7">0.40</text>
<text x="69.96" y="210.7">0.60</text>
<text x="70" y="136.7">0.80</text>
<text x="69.87" y="62.7">1.00</text>
</g>
<text text-anchor="middle" transform="translate(29.5 243.13) rotate(-90)">Puissance du signal en V</text>
</svg>
</body>
</html>
